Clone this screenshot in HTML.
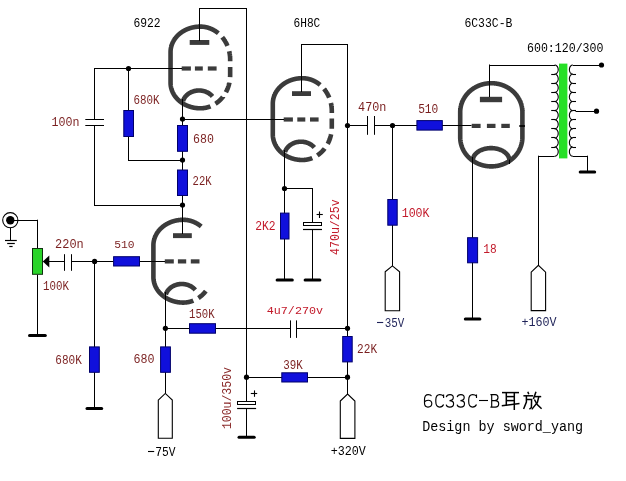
<!DOCTYPE html>
<html><head><meta charset="utf-8"><style>
html,body{margin:0;padding:0;background:#fff;}
svg{display:block;will-change:transform;}
text{font-family:"Liberation Mono";}
</style></head><body>
<svg width="626" height="481" viewBox="0 0 626 481">
<rect width="626" height="481" fill="#fff"/>
<polyline points="210.48,106.33 210.48,106.33 210.3,106.41 210.11,106.48 209.93,106.55 209.74,106.62 209.56,106.68 209.37,106.75 209.19,106.82 209,106.88 208.81,106.94 208.63,107 208.44,107.06 208.25,107.12 208.06,107.18 207.87,107.23 207.69,107.28 207.5,107.34 207.31,107.39 207.12,107.44 206.93,107.49 206.74,107.53 206.55,107.58 206.35,107.62 206.16,107.67 205.97,107.71 205.78,107.75 205.59,107.79 205.4,107.82 205.2,107.86 205.01,107.89 204.82,107.93 204.63,107.96 204.43,107.99 204.24,108.02 204.05,108.05 203.85,108.07 203.66,108.1 203.46,108.12 203.27,108.14 203.08,108.16 202.88,108.18 202.69,108.2 202.49,108.21 202.3,108.23 202.1,108.24 201.91,108.25 201.71,108.27 201.52,108.27 201.33,108.28 201.13,108.29 200.94,108.29 200.74,108.3 200.55,108.3 200.35,108.3 200.15,108.3 199.96,108.3 199.76,108.3 199.57,108.29 199.37,108.29 199.18,108.28 198.99,108.27 198.79,108.27 198.6,108.26 198.4,108.25 198.21,108.23 198.01,108.22 197.82,108.21 197.62,108.19 197.43,108.18 197.24,108.16 197.04,108.14 196.85,108.12 196.65,108.1 196.46,108.08 196.27,108.06 196.07,108.04 195.88,108.01 195.69,107.99 195.5,107.96 195.3,107.93 195.11,107.9 194.92,107.87 194.73,107.84 194.54,107.81 194.35,107.78 194.15,107.74 193.96,107.71 193.77,107.67 193.58,107.63 193.39,107.6 193.2,107.56 193.01,107.52 192.83,107.47 192.64,107.43 192.45,107.39 192.26,107.34 192.07,107.3 191.89,107.25 191.7,107.2 191.51,107.15 191.33,107.1 191.14,107.05 190.96,107 190.77,106.95 190.59,106.89 190.4,106.84 190.22,106.78 190.04,106.72 189.85,106.67 189.67,106.61 189.49,106.55 189.31,106.48 189.13,106.42 188.95,106.36 188.77,106.29 188.59,106.23 188.41,106.16 188.23,106.1 188.05,106.03 187.87,105.96 187.7,105.89 187.52,105.82 187.35,105.74 187.17,105.67 187,105.6 186.82,105.52 186.65,105.44 186.47,105.37 186.3,105.29 186.13,105.21 185.96,105.13 185.79,105.05 185.62,104.97 185.45,104.88 185.28,104.8 185.11,104.71 184.95,104.63 184.78,104.54 184.61,104.45 184.45,104.37 184.28,104.28 184.12,104.19 183.96,104.09 183.79,104 183.63,103.91 183.47,103.82 183.31,103.72 183.15,103.62 182.99,103.53 182.83,103.43 182.68,103.33 182.52,103.23 182.36,103.13 182.21,103.03 182.05,102.93 181.9,102.83 181.75,102.72 181.6,102.62 181.45,102.51 181.29,102.41 181.15,102.3 181,102.19 180.85,102.08 180.7,101.97 180.56,101.86 180.41,101.75 180.27,101.64 180.12,101.53 179.98,101.41 179.84,101.3 179.7,101.18 179.56,101.07 179.42,100.95 179.28,100.83 179.14,100.71 179,100.59 178.87,100.47 178.73,100.35 178.6,100.23 178.47,100.11 178.34,99.99 178.2,99.86 178.07,99.74 177.95,99.61 177.82,99.49 177.69,99.36 177.56,99.23 177.44,99.11 177.31,98.98 177.19,98.85 177.07,98.72 176.95,98.59 176.83,98.46 176.71,98.32 176.59,98.19 176.47,98.06 176.36,97.92 176.24,97.79 176.13,97.65 176.01,97.52 175.9,97.38 175.79,97.24 175.68,97.11 175.57,96.97 175.46,96.83 175.36,96.69 175.25,96.55 175.15,96.41 175.04,96.27 174.94,96.12 174.84,95.98 174.74,95.84 174.64,95.69 174.54,95.55 174.45,95.41 174.35,95.26 174.25,95.11 174.16,94.97 174.07,94.82 173.98,94.67 173.89,94.53 173.8,94.38 173.71,94.23 173.62,94.08 173.54,93.93 173.45,93.78 173.37,93.63 173.29,93.48 173.21,93.32 173.13,93.17 173.05,93.02 172.97,92.87 172.89,92.71 172.82,92.56 172.74,92.4 172.67,92.25 172.6,92.09 172.53,91.94 172.46,91.78 172.39,91.63 172.32,91.47 172.26,91.31 172.19,91.15 172.13,91 172.07,90.84 172.01,90.68 171.95,90.52 171.89,90.36 171.83,90.2 171.78,90.04 171.72,89.88 171.67,89.72 171.62,89.56 171.57,89.4 171.52,89.24 171.47,89.08 171.42,88.92 171.37,88.75 171.33,88.59 171.28,88.43 171.24,88.26 171.2,88.1 171.16,87.94 171.12,87.77 171.09,87.61 171.05,87.45 171.01,87.28 170.98,87.12 170.95,86.95 170.92,86.79 170.89,86.62 170.86,86.46 170.83,86.29 170.8,86.13 170.78,85.96 170.76,85.8 170.73,85.63 170.71,85.47 170.69,85.3 170.68,85.13 170.66,84.97 170.64,84.8 170.63,84.63 170.61,84.47 170.6,84.3 170.59,84.13 170.58,83.97 170.57,83.8 170.57,83.63 170.56,83.47 170.56,83.3 170.55,83.13 170.55,82.97 170.55,82.8 170.55,52.1 170.55,51.93 170.55,51.77 170.56,51.6 170.56,51.43 170.57,51.27 170.57,51.1 170.58,50.93 170.59,50.77 170.6,50.6 170.61,50.43 170.63,50.27 170.64,50.1 170.66,49.93 170.68,49.77 170.69,49.6 170.71,49.43 170.73,49.27 170.76,49.1 170.78,48.94 170.8,48.77 170.83,48.61 170.86,48.44 170.89,48.28 170.92,48.11 170.95,47.95 170.98,47.78 171.01,47.62 171.05,47.45 171.09,47.29 171.12,47.13 171.16,46.96 171.2,46.8 171.24,46.64 171.28,46.47 171.33,46.31 171.37,46.15 171.42,45.98 171.47,45.82 171.52,45.66 171.57,45.5 171.62,45.34 171.67,45.18 171.72,45.02 171.78,44.86 171.83,44.7 171.89,44.54 171.95,44.38 172.01,44.22 172.07,44.06 172.13,43.9 172.19,43.75 172.26,43.59 172.32,43.43 172.39,43.27 172.46,43.12 172.53,42.96 172.6,42.81 172.67,42.65 172.74,42.5 172.82,42.34 172.89,42.19 172.97,42.03 173.05,41.88 173.13,41.73 173.21,41.58 173.29,41.42 173.37,41.27 173.45,41.12 173.54,40.97 173.62,40.82 173.71,40.67 173.8,40.52 173.89,40.37 173.98,40.23 174.07,40.08 174.16,39.93 174.25,39.79 174.35,39.64 174.45,39.49 174.54,39.35 174.64,39.21 174.74,39.06 174.84,38.92 174.94,38.78 175.04,38.63 175.15,38.49 175.25,38.35 175.36,38.21 175.46,38.07 175.57,37.93 175.68,37.79 175.79,37.66 175.9,37.52 176.01,37.38 176.13,37.25 176.24,37.11 176.36,36.98 176.47,36.84 176.59,36.71 176.71,36.58 176.83,36.44 176.95,36.31 177.07,36.18 177.19,36.05 177.31,35.92 177.44,35.79 177.56,35.67 177.69,35.54 177.82,35.41 177.95,35.29 178.07,35.16 178.2,35.04 178.34,34.91 178.47,34.79 178.6,34.67 178.73,34.55 178.87,34.43 179,34.31 179.14,34.19 179.28,34.07 179.42,33.95 179.56,33.83 179.7,33.72 179.84,33.6 179.98,33.49 180.12,33.37 180.27,33.26 180.41,33.15 180.56,33.04 180.7,32.93 180.85,32.82 181,32.71 181.15,32.6 181.29,32.49 181.45,32.39 181.6,32.28 181.75,32.18 181.9,32.07 182.05,31.97 182.21,31.87 182.36,31.77 182.52,31.67 182.68,31.57 182.83,31.47 182.99,31.37 183.15,31.28 183.31,31.18 183.47,31.08 183.63,30.99 183.79,30.9 183.96,30.81 184.12,30.71 184.28,30.62 184.45,30.53 184.61,30.45 184.78,30.36 184.95,30.27 185.11,30.19 185.28,30.1 185.45,30.02 185.62,29.93 185.79,29.85 185.96,29.77 186.13,29.69 186.3,29.61 186.47,29.53 186.65,29.46 186.82,29.38 187,29.3 187.17,29.23 187.35,29.16 187.52,29.08 187.7,29.01 187.87,28.94 188.05,28.87 188.23,28.8 188.41,28.74 188.59,28.67 188.77,28.61 188.95,28.54 189.13,28.48 189.31,28.42 189.49,28.35 189.67,28.29 189.85,28.23 190.04,28.18 190.22,28.12 190.4,28.06 190.59,28.01 190.77,27.95 190.96,27.9 191.14,27.85 191.33,27.8 191.51,27.75 191.7,27.7 191.89,27.65 192.07,27.6 192.26,27.56 192.45,27.51 192.64,27.47 192.83,27.43 193.01,27.38 193.2,27.34 193.39,27.3 193.58,27.27 193.77,27.23 193.96,27.19 194.15,27.16 194.35,27.12 194.54,27.09 194.73,27.06 194.92,27.03 195.11,27 195.3,26.97 195.5,26.94 195.69,26.91 195.88,26.89 196.07,26.86 196.27,26.84 196.46,26.82 196.65,26.8 196.85,26.78 197.04,26.76 197.24,26.74 197.43,26.72 197.62,26.71 197.82,26.69 198.01,26.68 198.21,26.67 198.4,26.65 198.6,26.64 198.79,26.63 198.99,26.63 199.18,26.62 199.37,26.61 199.57,26.61 199.76,26.6 199.96,26.6 200.15,26.6 200.35,26.6 200.35,26.6 200.55,26.6 200.74,26.6 200.94,26.61 201.13,26.61 201.33,26.62 201.52,26.63 201.71,26.63 201.91,26.65 202.1,26.66 202.3,26.67 202.49,26.69 202.69,26.7 202.88,26.72 203.08,26.74 203.27,26.76 203.46,26.78 203.66,26.8 203.85,26.83 204.05,26.85 204.24,26.88 204.43,26.91 204.63,26.94 204.82,26.97 205.01,27.01 205.2,27.04 205.4,27.08 205.59,27.11 205.78,27.15 205.97,27.19 206.16,27.23 206.35,27.28 206.55,27.32 206.74,27.37 206.93,27.41 207.12,27.46 207.31,27.51 207.5,27.56 207.69,27.62 207.87,27.67 208.06,27.72 208.25,27.78 208.44,27.84 208.63,27.9 208.81,27.96 209,28.02 209.19,28.08 209.37,28.15 209.56,28.22 209.74,28.28 209.93,28.35 210.11,28.42 210.3,28.49 210.48,28.57 210.66,28.64 210.85,28.72 211.03,28.79 211.21,28.87 211.39,28.95 211.57,29.03 211.75,29.11 211.93,29.2 212.11,29.28 212.29,29.37 212.47,29.45 212.65,29.54 212.83,29.63 213,29.72 213.18,29.81 213.35,29.91 213.53,30 213.7,30.1 213.88,30.2 214.05,30.3 214.23,30.4 214.4,30.5 214.57,30.6 214.74,30.7 214.91,30.81 215.08,30.91 215.25,31.02 215.42,31.13 215.59,31.24 215.75,31.35 215.92,31.46 216.09,31.58 216.25,31.69 216.42,31.81 216.58,31.92 216.74,32.04 216.91,32.16 217.07,32.28 217.23,32.4 217.39,32.53 217.55,32.65 217.71,32.78 217.87,32.9 218.02,33.03 218.18,33.16 218.34,33.29 218.34,33.29 218.34,33.29" fill="none" stroke="#3b3b3b" stroke-width="4.6" stroke-linecap="butt" stroke-linejoin="round"/>
<polyline points="222.28,37.25 222.36,37.36 222.5,37.52 222.63,37.68 222.75,37.84 222.88,38 223.01,38.17 223.14,38.33 223.26,38.5 223.39,38.67 223.51,38.83 223.63,39 223.75,39.17 223.87,39.34 223.99,39.51 224.11,39.68 224.23,39.86 224.34,40.03 224.46,40.2 224.57,40.38 224.69,40.55 224.8,40.73 224.91,40.91 225.02,41.09 225.13,41.27 225.24,41.45 225.34,41.63 225.45,41.81 225.55,41.99 225.66,42.17 225.76,42.36 225.86,42.54 225.96,42.73 226.06,42.91 226.16,43.1 226.25,43.29 226.35,43.48 226.45,43.66 226.54,43.85 226.63,44.04 226.72,44.23 226.81,44.43 226.9,44.62 226.99,44.81 227.08,45 227.16,45.2 227.25,45.39 227.33,45.59 227.41,45.78 227.48,45.95" fill="none" stroke="#3b3b3b" stroke-width="4.6" stroke-linecap="butt" stroke-linejoin="miter"/>
<polyline points="229.19,51.27 229.23,51.48 229.28,51.69 229.33,51.9 229.37,52.11 229.42,52.32 229.46,52.53 229.5,52.74 229.54,52.95 229.58,53.16 229.61,53.37 229.65,53.59 229.69,53.8 229.72,54.01 229.75,54.22 229.78,54.44 229.81,54.65 229.84,54.86 229.87,55.08 229.9,55.29 229.92,55.51 229.94,55.72 229.97,55.94 229.99,56.15 230.01,56.37 230.02,56.58 230.04,56.8 230.06,57.01 230.07,57.23 230.09,57.44 230.1,57.66 230.11,57.87 230.12,58.09 230.13,58.3 230.13,58.52 230.14,58.74 230.14,58.95 230.15,59.17 230.15,59.38 230.15,59.6 230.15,61.37" fill="none" stroke="#3b3b3b" stroke-width="4.6" stroke-linecap="butt" stroke-linejoin="miter"/>
<polyline points="230.15,66.97 230.15,75.3 230.15,75.52 230.15,75.73 230.14,75.95 230.14,76.16 230.13,76.38 230.13,76.6 230.12,76.81 230.11,77.03 230.1,77.14" fill="none" stroke="#3b3b3b" stroke-width="4.6" stroke-linecap="butt" stroke-linejoin="miter"/>
<polyline points="229.39,82.68 229.37,82.79 229.33,83 229.28,83.21 229.23,83.42 229.18,83.63 229.13,83.84 229.08,84.05 229.03,84.26 228.98,84.47 228.92,84.67 228.87,84.88 228.81,85.09 228.75,85.29 228.69,85.5 228.63,85.7 228.57,85.91 228.51,86.11 228.44,86.32 228.38,86.52 228.31,86.72 228.24,86.92 228.17,87.13 228.1,87.33 228.03,87.53 227.96,87.73 227.88,87.93 227.81,88.13 227.73,88.33 227.65,88.52 227.57,88.72 227.49,88.92 227.41,89.12 227.33,89.31 227.25,89.51 227.16,89.7 227.08,89.9 226.99,90.09 226.9,90.28 226.81,90.47 226.72,90.67 226.63,90.86 226.54,91.05 226.45,91.24 226.35,91.42 226.25,91.61 226.16,91.8 226.06,91.99 225.96,92.17 225.94,92.21" fill="none" stroke="#3b3b3b" stroke-width="4.6" stroke-linecap="butt" stroke-linejoin="miter"/>
<polyline points="222.88,96.89 222.88,96.9 222.75,97.06 222.63,97.22 222.5,97.38 222.36,97.54 222.23,97.7 222.1,97.86 221.97,98.02 221.83,98.17 221.7,98.33 221.56,98.48 221.42,98.63 221.28,98.79 221.14,98.94 221,99.09 220.86,99.24 220.72,99.39 220.58,99.53 220.43,99.68 220.29,99.82 220.14,99.97 220,100.11 219.85,100.25 219.7,100.39 219.55,100.53 219.41,100.67 219.25,100.81 219.1,100.95 218.95,101.08 218.8,101.22 218.65,101.35 218.49,101.48 218.34,101.61 218.18,101.74 218.02,101.87 217.87,102 217.71,102.12 217.55,102.25 217.39,102.37 217.23,102.5 217.07,102.62 216.91,102.74 216.74,102.86 216.58,102.98 216.42,103.09 216.25,103.21 216.09,103.32 215.92,103.44 215.75,103.55 215.59,103.66 215.44,103.76" fill="none" stroke="#3b3b3b" stroke-width="4.6" stroke-linecap="butt" stroke-linejoin="miter"/>
<rect x="189.7" y="40" width="19.6" height="4.9" fill="#3b3b3b"/>
<line x1="181.7" y1="68.5" x2="190.9" y2="68.5" stroke="#3b3b3b" stroke-width="4.2" stroke-linecap="butt"/>
<line x1="194.9" y1="68.5" x2="202.8" y2="68.5" stroke="#3b3b3b" stroke-width="4.2" stroke-linecap="butt"/>
<line x1="207.8" y1="68.5" x2="216.6" y2="68.5" stroke="#3b3b3b" stroke-width="4.2" stroke-linecap="butt"/>
<polyline points="183.04,100.86 183.18,100.48 183.32,100.1 183.48,99.72 183.65,99.35 183.84,98.98 184.03,98.62 184.24,98.26 184.45,97.91 184.68,97.56 184.92,97.22 185.17,96.89 185.44,96.56 185.71,96.23 185.99,95.92 186.28,95.61 186.59,95.31 186.9,95.01 187.22,94.72 187.55,94.44 187.89,94.17 188.24,93.91 188.6,93.66 188.96,93.41 189.34,93.17 189.72,92.94 190.11,92.73 190.5,92.52 190.9,92.32 191.31,92.13 191.72,91.95 192.14,91.78 192.57,91.62 193,91.47 193.43,91.33 193.87,91.2 194.31,91.08 194.76,90.97 195.21,90.88 195.66,90.79 196.12,90.72 196.58,90.65 197.03,90.6 197.5,90.56 197.96,90.53 198.42,90.51 198.88,90.5 199.35,90.5 199.81,90.52 200.27,90.54 200.74,90.58 201.2,90.63 201.65,90.68 202.11,90.75 202.56,90.83 203.02,90.92 203.46,91.03 203.91,91.14 204.35,91.26 204.79,91.4 205.22,91.54 205.65,91.7 206.07,91.86 206.48,92.04 206.9,92.22 207.3,92.42 207.7,92.62 208.09,92.83 208.47,93.06 208.85,93.29 209.22,93.53 209.58,93.78 209.93,94.04 210.28,94.31 210.61,94.58 210.94,94.87 211.26,95.16 211.57,95.46 211.86,95.76 212.15,96.07 212.43,96.39" fill="none" stroke="#3b3b3b" stroke-width="4.6" stroke-linecap="butt" stroke-linejoin="miter"/>
<polyline points="193.33,300.63 193.33,300.63 193.15,300.71 192.96,300.78 192.78,300.85 192.59,300.92 192.41,300.98 192.22,301.05 192.04,301.12 191.85,301.18 191.66,301.24 191.48,301.3 191.29,301.36 191.1,301.42 190.91,301.48 190.72,301.53 190.54,301.58 190.35,301.64 190.16,301.69 189.97,301.74 189.78,301.79 189.59,301.83 189.4,301.88 189.2,301.92 189.01,301.97 188.82,302.01 188.63,302.05 188.44,302.09 188.25,302.12 188.05,302.16 187.86,302.19 187.67,302.23 187.48,302.26 187.28,302.29 187.09,302.32 186.9,302.35 186.7,302.37 186.51,302.4 186.31,302.42 186.12,302.44 185.93,302.46 185.73,302.48 185.54,302.5 185.34,302.51 185.15,302.53 184.95,302.54 184.76,302.55 184.56,302.57 184.37,302.57 184.18,302.58 183.98,302.59 183.79,302.59 183.59,302.6 183.4,302.6 183.2,302.6 183,302.6 182.81,302.6 182.61,302.6 182.42,302.59 182.22,302.59 182.03,302.58 181.84,302.57 181.64,302.57 181.45,302.56 181.25,302.55 181.06,302.53 180.86,302.52 180.67,302.51 180.47,302.49 180.28,302.48 180.09,302.46 179.89,302.44 179.7,302.42 179.5,302.4 179.31,302.38 179.12,302.36 178.92,302.34 178.73,302.31 178.54,302.29 178.35,302.26 178.15,302.23 177.96,302.2 177.77,302.17 177.58,302.14 177.39,302.11 177.2,302.08 177,302.04 176.81,302.01 176.62,301.97 176.43,301.93 176.24,301.9 176.05,301.86 175.86,301.82 175.68,301.77 175.49,301.73 175.3,301.69 175.11,301.64 174.92,301.6 174.74,301.55 174.55,301.5 174.36,301.45 174.18,301.4 173.99,301.35 173.81,301.3 173.62,301.25 173.44,301.19 173.25,301.14 173.07,301.08 172.89,301.02 172.7,300.97 172.52,300.91 172.34,300.85 172.16,300.78 171.98,300.72 171.8,300.66 171.62,300.59 171.44,300.53 171.26,300.46 171.08,300.4 170.9,300.33 170.72,300.26 170.55,300.19 170.37,300.12 170.2,300.04 170.02,299.97 169.85,299.9 169.67,299.82 169.5,299.74 169.32,299.67 169.15,299.59 168.98,299.51 168.81,299.43 168.64,299.35 168.47,299.27 168.3,299.18 168.13,299.1 167.96,299.01 167.8,298.93 167.63,298.84 167.46,298.75 167.3,298.67 167.13,298.58 166.97,298.49 166.81,298.39 166.64,298.3 166.48,298.21 166.32,298.12 166.16,298.02 166,297.92 165.84,297.83 165.68,297.73 165.53,297.63 165.37,297.53 165.21,297.43 165.06,297.33 164.9,297.23 164.75,297.13 164.6,297.02 164.45,296.92 164.3,296.81 164.14,296.71 164,296.6 163.85,296.49 163.7,296.38 163.55,296.27 163.41,296.16 163.26,296.05 163.12,295.94 162.97,295.83 162.83,295.71 162.69,295.6 162.55,295.48 162.41,295.37 162.27,295.25 162.13,295.13 161.99,295.01 161.85,294.89 161.72,294.77 161.58,294.65 161.45,294.53 161.32,294.41 161.19,294.29 161.05,294.16 160.92,294.04 160.8,293.91 160.67,293.79 160.54,293.66 160.41,293.53 160.29,293.41 160.16,293.28 160.04,293.15 159.92,293.02 159.8,292.89 159.68,292.76 159.56,292.62 159.44,292.49 159.32,292.36 159.21,292.22 159.09,292.09 158.98,291.95 158.86,291.82 158.75,291.68 158.64,291.54 158.53,291.41 158.42,291.27 158.31,291.13 158.21,290.99 158.1,290.85 158,290.71 157.89,290.57 157.79,290.42 157.69,290.28 157.59,290.14 157.49,289.99 157.39,289.85 157.3,289.71 157.2,289.56 157.1,289.41 157.01,289.27 156.92,289.12 156.83,288.97 156.74,288.83 156.65,288.68 156.56,288.53 156.47,288.38 156.39,288.23 156.3,288.08 156.22,287.93 156.14,287.78 156.06,287.62 155.98,287.47 155.9,287.32 155.82,287.17 155.74,287.01 155.67,286.86 155.59,286.7 155.52,286.55 155.45,286.39 155.38,286.24 155.31,286.08 155.24,285.93 155.17,285.77 155.11,285.61 155.04,285.45 154.98,285.3 154.92,285.14 154.86,284.98 154.8,284.82 154.74,284.66 154.68,284.5 154.63,284.34 154.57,284.18 154.52,284.02 154.47,283.86 154.42,283.7 154.37,283.54 154.32,283.38 154.27,283.22 154.22,283.05 154.18,282.89 154.13,282.73 154.09,282.56 154.05,282.4 154.01,282.24 153.97,282.07 153.94,281.91 153.9,281.75 153.86,281.58 153.83,281.42 153.8,281.25 153.77,281.09 153.74,280.92 153.71,280.76 153.68,280.59 153.65,280.43 153.63,280.26 153.61,280.1 153.58,279.93 153.56,279.77 153.54,279.6 153.53,279.43 153.51,279.27 153.49,279.1 153.48,278.93 153.46,278.77 153.45,278.6 153.44,278.43 153.43,278.27 153.42,278.1 153.42,277.93 153.41,277.77 153.41,277.6 153.4,277.43 153.4,277.27 153.4,277.1 153.4,245.3 153.4,245.13 153.4,244.97 153.41,244.8 153.41,244.63 153.42,244.47 153.42,244.3 153.43,244.13 153.44,243.97 153.45,243.8 153.46,243.63 153.48,243.47 153.49,243.3 153.51,243.13 153.53,242.97 153.54,242.8 153.56,242.63 153.58,242.47 153.61,242.3 153.63,242.14 153.65,241.97 153.68,241.81 153.71,241.64 153.74,241.48 153.77,241.31 153.8,241.15 153.83,240.98 153.86,240.82 153.9,240.65 153.94,240.49 153.97,240.33 154.01,240.16 154.05,240 154.09,239.84 154.13,239.67 154.18,239.51 154.22,239.35 154.27,239.18 154.32,239.02 154.37,238.86 154.42,238.7 154.47,238.54 154.52,238.38 154.57,238.22 154.63,238.06 154.68,237.9 154.74,237.74 154.8,237.58 154.86,237.42 154.92,237.26 154.98,237.1 155.04,236.95 155.11,236.79 155.17,236.63 155.24,236.47 155.31,236.32 155.38,236.16 155.45,236.01 155.52,235.85 155.59,235.7 155.67,235.54 155.74,235.39 155.82,235.23 155.9,235.08 155.98,234.93 156.06,234.78 156.14,234.62 156.22,234.47 156.3,234.32 156.39,234.17 156.47,234.02 156.56,233.87 156.65,233.72 156.74,233.57 156.83,233.43 156.92,233.28 157.01,233.13 157.1,232.99 157.2,232.84 157.3,232.69 157.39,232.55 157.49,232.41 157.59,232.26 157.69,232.12 157.79,231.98 157.89,231.83 158,231.69 158.1,231.55 158.21,231.41 158.31,231.27 158.42,231.13 158.53,230.99 158.64,230.86 158.75,230.72 158.86,230.58 158.98,230.45 159.09,230.31 159.21,230.18 159.32,230.04 159.44,229.91 159.56,229.78 159.68,229.64 159.8,229.51 159.92,229.38 160.04,229.25 160.16,229.12 160.29,228.99 160.41,228.87 160.54,228.74 160.67,228.61 160.8,228.49 160.92,228.36 161.05,228.24 161.19,228.11 161.32,227.99 161.45,227.87 161.58,227.75 161.72,227.63 161.85,227.51 161.99,227.39 162.13,227.27 162.27,227.15 162.41,227.03 162.55,226.92 162.69,226.8 162.83,226.69 162.97,226.57 163.12,226.46 163.26,226.35 163.41,226.24 163.55,226.13 163.7,226.02 163.85,225.91 164,225.8 164.14,225.69 164.3,225.59 164.45,225.48 164.6,225.38 164.75,225.27 164.9,225.17 165.06,225.07 165.21,224.97 165.37,224.87 165.53,224.77 165.68,224.67 165.84,224.57 166,224.48 166.16,224.38 166.32,224.28 166.48,224.19 166.64,224.1 166.81,224.01 166.97,223.91 167.13,223.82 167.3,223.73 167.46,223.65 167.63,223.56 167.8,223.47 167.96,223.39 168.13,223.3 168.3,223.22 168.47,223.13 168.64,223.05 168.81,222.97 168.98,222.89 169.15,222.81 169.32,222.73 169.5,222.66 169.67,222.58 169.85,222.5 170.02,222.43 170.2,222.36 170.37,222.28 170.55,222.21 170.72,222.14 170.9,222.07 171.08,222 171.26,221.94 171.44,221.87 171.62,221.81 171.8,221.74 171.98,221.68 172.16,221.62 172.34,221.55 172.52,221.49 172.7,221.43 172.89,221.38 173.07,221.32 173.25,221.26 173.44,221.21 173.62,221.15 173.81,221.1 173.99,221.05 174.18,221 174.36,220.95 174.55,220.9 174.74,220.85 174.92,220.8 175.11,220.76 175.3,220.71 175.49,220.67 175.68,220.63 175.86,220.58 176.05,220.54 176.24,220.5 176.43,220.47 176.62,220.43 176.81,220.39 177,220.36 177.2,220.32 177.39,220.29 177.58,220.26 177.77,220.23 177.96,220.2 178.15,220.17 178.35,220.14 178.54,220.11 178.73,220.09 178.92,220.06 179.12,220.04 179.31,220.02 179.5,220 179.7,219.98 179.89,219.96 180.09,219.94 180.28,219.92 180.47,219.91 180.67,219.89 180.86,219.88 181.06,219.87 181.25,219.85 181.45,219.84 181.64,219.83 181.84,219.83 182.03,219.82 182.22,219.81 182.42,219.81 182.61,219.8 182.81,219.8 183,219.8 183.2,219.8 183.2,219.8 183.4,219.8 183.59,219.8 183.79,219.81 183.98,219.81 184.18,219.82 184.37,219.83 184.56,219.83 184.76,219.85 184.95,219.86 185.15,219.87 185.34,219.89 185.54,219.9 185.73,219.92 185.93,219.94 186.12,219.96 186.31,219.98 186.51,220 186.7,220.03 186.9,220.05 187.09,220.08 187.28,220.11 187.48,220.14 187.67,220.17 187.86,220.21 188.05,220.24 188.25,220.28 188.44,220.31 188.63,220.35 188.82,220.39 189.01,220.43 189.2,220.48 189.4,220.52 189.59,220.57 189.78,220.61 189.97,220.66 190.16,220.71 190.35,220.76 190.54,220.82 190.72,220.87 190.91,220.92 191.1,220.98 191.29,221.04 191.48,221.1 191.66,221.16 191.85,221.22 192.04,221.28 192.22,221.35 192.41,221.42 192.59,221.48 192.78,221.55 192.96,221.62 193.15,221.69 193.33,221.77 193.51,221.84 193.7,221.92 193.88,221.99 194.06,222.07 194.24,222.15 194.42,222.23 194.6,222.31 194.78,222.4 194.96,222.48 195.14,222.57 195.32,222.65 195.5,222.74 195.68,222.83 195.85,222.92 196.03,223.01 196.2,223.11 196.38,223.2 196.55,223.3 196.73,223.4 196.9,223.5 197.08,223.6 197.25,223.7 197.42,223.8 197.59,223.9 197.76,224.01 197.93,224.11 198.1,224.22 198.27,224.33 198.44,224.44 198.6,224.55 198.77,224.66 198.94,224.78 199.1,224.89 199.27,225.01 199.43,225.12 199.59,225.24 199.76,225.36 199.92,225.48 200.08,225.6 200.24,225.73 200.4,225.85 200.56,225.98 200.72,226.1 200.87,226.23 201.03,226.36 201.19,226.49 201.19,226.49 201.19,226.49" fill="none" stroke="#3b3b3b" stroke-width="4.6" stroke-linecap="butt" stroke-linejoin="round"/>
<polyline points="205.86,291.03 205.86,291.03 205.73,291.2 205.6,291.36 205.48,291.52 205.35,291.68 205.21,291.84 205.08,292 204.95,292.16 204.82,292.32 204.68,292.47 204.55,292.63 204.41,292.78 204.27,292.93 204.13,293.09 203.99,293.24 203.85,293.39 203.71,293.54 203.57,293.69 203.43,293.83 203.28,293.98 203.14,294.12 202.99,294.27 202.85,294.41 202.7,294.55 202.55,294.69 202.4,294.83 202.26,294.97 202.1,295.11 201.95,295.25 201.8,295.38 201.65,295.52 201.5,295.65 201.34,295.78 201.19,295.91 201.03,296.04 200.87,296.17 200.72,296.3 200.56,296.42 200.4,296.55 200.24,296.67 200.08,296.8 199.92,296.92 199.76,297.04 199.59,297.16 199.43,297.28 199.27,297.39 199.1,297.51 198.94,297.62 198.77,297.74 198.6,297.85 198.44,297.96 198.35,298.02" fill="none" stroke="#3b3b3b" stroke-width="4.6" stroke-linecap="butt" stroke-linejoin="miter"/>
<rect x="173" y="233.2" width="18.8" height="4.9" fill="#3b3b3b"/>
<line x1="164.8" y1="261.4" x2="173.8" y2="261.4" stroke="#3b3b3b" stroke-width="4.2" stroke-linecap="butt"/>
<line x1="177.9" y1="261.4" x2="186.2" y2="261.4" stroke="#3b3b3b" stroke-width="4.2" stroke-linecap="butt"/>
<line x1="190.8" y1="261.4" x2="199.5" y2="261.4" stroke="#3b3b3b" stroke-width="4.2" stroke-linecap="butt"/>
<polyline points="165.84,294.36 165.98,293.98 166.12,293.6 166.28,293.22 166.45,292.85 166.64,292.48 166.83,292.12 167.04,291.76 167.25,291.41 167.48,291.06 167.72,290.72 167.97,290.39 168.24,290.06 168.51,289.73 168.79,289.42 169.08,289.11 169.39,288.81 169.7,288.51 170.02,288.22 170.35,287.94 170.69,287.67 171.04,287.41 171.4,287.16 171.76,286.91 172.14,286.67 172.52,286.44 172.91,286.23 173.3,286.02 173.7,285.82 174.11,285.63 174.52,285.45 174.94,285.28 175.37,285.12 175.8,284.97 176.23,284.83 176.67,284.7 177.11,284.58 177.56,284.47 178.01,284.38 178.46,284.29 178.92,284.22 179.38,284.15 179.83,284.1 180.3,284.06 180.76,284.03 181.22,284.01 181.68,284 182.15,284 182.61,284.02 183.07,284.04 183.54,284.08 184,284.13 184.45,284.18 184.91,284.25 185.36,284.33 185.82,284.42 186.26,284.53 186.71,284.64 187.15,284.76 187.59,284.9 188.02,285.04 188.45,285.2 188.87,285.36 189.28,285.54 189.7,285.72 190.1,285.92 190.5,286.12 190.89,286.33 191.27,286.56 191.65,286.79 192.02,287.03 192.38,287.28 192.73,287.54 193.08,287.81 193.41,288.08 193.74,288.37 194.06,288.66 194.37,288.96 194.66,289.26 194.95,289.57 195.23,289.89" fill="none" stroke="#3b3b3b" stroke-width="4.6" stroke-linecap="butt" stroke-linejoin="miter"/>
<polyline points="312.33,158.03 312.33,158.03 312.15,158.11 311.97,158.18 311.78,158.25 311.6,158.32 311.42,158.38 311.23,158.45 311.05,158.52 310.86,158.58 310.68,158.64 310.49,158.7 310.31,158.76 310.12,158.82 309.94,158.88 309.75,158.93 309.56,158.98 309.37,159.04 309.19,159.09 309,159.14 308.81,159.19 308.62,159.23 308.43,159.28 308.24,159.32 308.06,159.37 307.87,159.41 307.68,159.45 307.49,159.49 307.3,159.52 307.11,159.56 306.91,159.59 306.72,159.63 306.53,159.66 306.34,159.69 306.15,159.72 305.96,159.75 305.77,159.77 305.58,159.8 305.38,159.82 305.19,159.84 305,159.86 304.81,159.88 304.61,159.9 304.42,159.91 304.23,159.93 304.04,159.94 303.84,159.95 303.65,159.97 303.46,159.97 303.27,159.98 303.07,159.99 302.88,159.99 302.69,160 302.49,160 302.3,160 302.11,160 301.91,160 301.72,160 301.53,159.99 301.33,159.99 301.14,159.98 300.95,159.97 300.76,159.97 300.56,159.96 300.37,159.95 300.18,159.93 299.99,159.92 299.79,159.91 299.6,159.89 299.41,159.88 299.22,159.86 299.02,159.84 298.83,159.82 298.64,159.8 298.45,159.78 298.26,159.76 298.07,159.74 297.88,159.71 297.69,159.69 297.49,159.66 297.3,159.63 297.11,159.6 296.92,159.57 296.73,159.54 296.54,159.51 296.36,159.48 296.17,159.44 295.98,159.41 295.79,159.37 295.6,159.33 295.41,159.3 295.23,159.26 295.04,159.22 294.85,159.17 294.66,159.13 294.48,159.09 294.29,159.04 294.11,159 293.92,158.95 293.74,158.9 293.55,158.85 293.37,158.8 293.18,158.75 293,158.7 292.82,158.65 292.63,158.59 292.45,158.54 292.27,158.48 292.09,158.42 291.91,158.37 291.73,158.31 291.55,158.25 291.37,158.18 291.19,158.12 291.01,158.06 290.83,157.99 290.66,157.93 290.48,157.86 290.3,157.8 290.13,157.73 289.95,157.66 289.77,157.59 289.6,157.52 289.43,157.44 289.25,157.37 289.08,157.3 288.91,157.22 288.74,157.14 288.56,157.07 288.39,156.99 288.22,156.91 288.05,156.83 287.89,156.75 287.72,156.67 287.55,156.58 287.38,156.5 287.22,156.41 287.05,156.33 286.89,156.24 286.72,156.15 286.56,156.07 286.4,155.98 286.23,155.89 286.07,155.79 285.91,155.7 285.75,155.61 285.59,155.52 285.43,155.42 285.27,155.32 285.12,155.23 284.96,155.13 284.8,155.03 284.65,154.93 284.5,154.83 284.34,154.73 284.19,154.63 284.04,154.53 283.89,154.42 283.74,154.32 283.59,154.21 283.44,154.11 283.29,154 283.14,153.89 282.99,153.78 282.85,153.67 282.7,153.56 282.56,153.45 282.42,153.34 282.28,153.23 282.13,153.11 281.99,153 281.85,152.88 281.72,152.77 281.58,152.65 281.44,152.53 281.3,152.41 281.17,152.29 281.03,152.17 280.9,152.05 280.77,151.93 280.64,151.81 280.51,151.69 280.38,151.56 280.25,151.44 280.12,151.31 279.99,151.19 279.87,151.06 279.74,150.93 279.62,150.81 279.5,150.68 279.37,150.55 279.25,150.42 279.13,150.29 279.01,150.16 278.9,150.02 278.78,149.89 278.66,149.76 278.55,149.62 278.43,149.49 278.32,149.35 278.21,149.22 278.1,149.08 277.99,148.94 277.88,148.81 277.77,148.67 277.66,148.53 277.56,148.39 277.45,148.25 277.35,148.11 277.25,147.97 277.15,147.82 277.05,147.68 276.95,147.54 276.85,147.39 276.75,147.25 276.66,147.11 276.56,146.96 276.47,146.81 276.37,146.67 276.28,146.52 276.19,146.37 276.1,146.23 276.02,146.08 275.93,145.93 275.84,145.78 275.76,145.63 275.67,145.48 275.59,145.33 275.51,145.18 275.43,145.02 275.35,144.87 275.27,144.72 275.2,144.57 275.12,144.41 275.05,144.26 274.97,144.1 274.9,143.95 274.83,143.79 274.76,143.64 274.69,143.48 274.62,143.33 274.56,143.17 274.49,143.01 274.43,142.85 274.37,142.7 274.3,142.54 274.24,142.38 274.18,142.22 274.13,142.06 274.07,141.9 274.01,141.74 273.96,141.58 273.91,141.42 273.86,141.26 273.81,141.1 273.76,140.94 273.71,140.78 273.66,140.62 273.62,140.45 273.57,140.29 273.53,140.13 273.49,139.96 273.44,139.8 273.41,139.64 273.37,139.47 273.33,139.31 273.29,139.15 273.26,138.98 273.23,138.82 273.19,138.65 273.16,138.49 273.13,138.32 273.11,138.16 273.08,137.99 273.05,137.83 273.03,137.66 273,137.5 272.98,137.33 272.96,137.17 272.94,137 272.92,136.83 272.91,136.67 272.89,136.5 272.88,136.33 272.86,136.17 272.85,136 272.84,135.83 272.83,135.67 272.82,135.5 272.82,135.33 272.81,135.17 272.81,135 272.8,134.83 272.8,134.67 272.8,134.5 272.8,103.7 272.8,103.53 272.8,103.37 272.81,103.2 272.81,103.03 272.82,102.87 272.82,102.7 272.83,102.53 272.84,102.37 272.85,102.2 272.86,102.03 272.88,101.87 272.89,101.7 272.91,101.53 272.92,101.37 272.94,101.2 272.96,101.03 272.98,100.87 273,100.7 273.03,100.54 273.05,100.37 273.08,100.21 273.11,100.04 273.13,99.88 273.16,99.71 273.19,99.55 273.23,99.38 273.26,99.22 273.29,99.05 273.33,98.89 273.37,98.73 273.41,98.56 273.44,98.4 273.49,98.24 273.53,98.07 273.57,97.91 273.62,97.75 273.66,97.58 273.71,97.42 273.76,97.26 273.81,97.1 273.86,96.94 273.91,96.78 273.96,96.62 274.01,96.46 274.07,96.3 274.13,96.14 274.18,95.98 274.24,95.82 274.3,95.66 274.37,95.5 274.43,95.35 274.49,95.19 274.56,95.03 274.62,94.87 274.69,94.72 274.76,94.56 274.83,94.41 274.9,94.25 274.97,94.1 275.05,93.94 275.12,93.79 275.2,93.63 275.27,93.48 275.35,93.33 275.43,93.18 275.51,93.02 275.59,92.87 275.67,92.72 275.76,92.57 275.84,92.42 275.93,92.27 276.02,92.12 276.1,91.97 276.19,91.83 276.28,91.68 276.37,91.53 276.47,91.39 276.56,91.24 276.66,91.09 276.75,90.95 276.85,90.81 276.95,90.66 277.05,90.52 277.15,90.38 277.25,90.23 277.35,90.09 277.45,89.95 277.56,89.81 277.66,89.67 277.77,89.53 277.88,89.39 277.99,89.26 278.1,89.12 278.21,88.98 278.32,88.85 278.43,88.71 278.55,88.58 278.66,88.44 278.78,88.31 278.9,88.18 279.01,88.04 279.13,87.91 279.25,87.78 279.37,87.65 279.5,87.52 279.62,87.39 279.74,87.27 279.87,87.14 279.99,87.01 280.12,86.89 280.25,86.76 280.38,86.64 280.51,86.51 280.64,86.39 280.77,86.27 280.9,86.15 281.03,86.03 281.17,85.91 281.3,85.79 281.44,85.67 281.58,85.55 281.72,85.43 281.85,85.32 281.99,85.2 282.13,85.09 282.28,84.97 282.42,84.86 282.56,84.75 282.7,84.64 282.85,84.53 282.99,84.42 283.14,84.31 283.29,84.2 283.44,84.09 283.59,83.99 283.74,83.88 283.89,83.78 284.04,83.67 284.19,83.57 284.34,83.47 284.5,83.37 284.65,83.27 284.8,83.17 284.96,83.07 285.12,82.97 285.27,82.88 285.43,82.78 285.59,82.68 285.75,82.59 285.91,82.5 286.07,82.41 286.23,82.31 286.4,82.22 286.56,82.13 286.72,82.05 286.89,81.96 287.05,81.87 287.22,81.79 287.38,81.7 287.55,81.62 287.72,81.53 287.89,81.45 288.05,81.37 288.22,81.29 288.39,81.21 288.56,81.13 288.74,81.06 288.91,80.98 289.08,80.9 289.25,80.83 289.43,80.76 289.6,80.68 289.77,80.61 289.95,80.54 290.13,80.47 290.3,80.4 290.48,80.34 290.66,80.27 290.83,80.21 291.01,80.14 291.19,80.08 291.37,80.02 291.55,79.95 291.73,79.89 291.91,79.83 292.09,79.78 292.27,79.72 292.45,79.66 292.63,79.61 292.82,79.55 293,79.5 293.18,79.45 293.37,79.4 293.55,79.35 293.74,79.3 293.92,79.25 294.11,79.2 294.29,79.16 294.48,79.11 294.66,79.07 294.85,79.03 295.04,78.98 295.23,78.94 295.41,78.9 295.6,78.87 295.79,78.83 295.98,78.79 296.17,78.76 296.36,78.72 296.54,78.69 296.73,78.66 296.92,78.63 297.11,78.6 297.3,78.57 297.49,78.54 297.69,78.51 297.88,78.49 298.07,78.46 298.26,78.44 298.45,78.42 298.64,78.4 298.83,78.38 299.02,78.36 299.22,78.34 299.41,78.32 299.6,78.31 299.79,78.29 299.99,78.28 300.18,78.27 300.37,78.25 300.56,78.24 300.76,78.23 300.95,78.23 301.14,78.22 301.33,78.21 301.53,78.21 301.72,78.2 301.91,78.2 302.11,78.2 302.3,78.2 302.3,78.2 302.49,78.2 302.69,78.2 302.88,78.21 303.07,78.21 303.27,78.22 303.46,78.23 303.65,78.23 303.84,78.25 304.04,78.26 304.23,78.27 304.42,78.29 304.61,78.3 304.81,78.32 305,78.34 305.19,78.36 305.38,78.38 305.58,78.4 305.77,78.43 305.96,78.45 306.15,78.48 306.34,78.51 306.53,78.54 306.72,78.57 306.91,78.61 307.11,78.64 307.3,78.68 307.49,78.71 307.68,78.75 307.87,78.79 308.06,78.83 308.24,78.88 308.43,78.92 308.62,78.97 308.81,79.01 309,79.06 309.19,79.11 309.37,79.16 309.56,79.22 309.75,79.27 309.94,79.32 310.12,79.38 310.31,79.44 310.49,79.5 310.68,79.56 310.86,79.62 311.05,79.68 311.23,79.75 311.42,79.82 311.6,79.88 311.78,79.95 311.97,80.02 312.15,80.09 312.33,80.17 312.51,80.24 312.69,80.32 312.87,80.39 313.05,80.47 313.23,80.55 313.41,80.63 313.59,80.71 313.77,80.8 313.94,80.88 314.12,80.97 314.3,81.05 314.47,81.14 314.65,81.23 314.83,81.32 315,81.41 315.17,81.51 315.35,81.6 315.52,81.7 315.69,81.8 315.86,81.9 316.04,82 316.21,82.1 316.38,82.2 316.55,82.3 316.71,82.41 316.88,82.51 317.05,82.62 317.22,82.73 317.38,82.84 317.55,82.95 317.71,83.06 317.88,83.18 318.04,83.29 318.2,83.41 318.37,83.52 318.53,83.64 318.69,83.76 318.85,83.88 319.01,84 319.17,84.13 319.33,84.25 319.48,84.38 319.64,84.5 319.8,84.63 319.95,84.76 320.1,84.89 320.1,84.89 320.1,84.89" fill="none" stroke="#3b3b3b" stroke-width="4.6" stroke-linecap="butt" stroke-linejoin="round"/>
<polyline points="324.02,88.87 324.09,88.96 324.22,89.12 324.35,89.28 324.48,89.44 324.61,89.6 324.73,89.77 324.86,89.93 324.98,90.1 325.1,90.27 325.23,90.43 325.35,90.6 325.47,90.77 325.59,90.94 325.7,91.11 325.82,91.28 325.94,91.46 326.05,91.63 326.17,91.8 326.28,91.98 326.39,92.15 326.5,92.33 326.61,92.51 326.72,92.69 326.83,92.87 326.94,93.05 327.04,93.23 327.15,93.41 327.25,93.59 327.35,93.77 327.45,93.96 327.55,94.14 327.65,94.33 327.75,94.51 327.85,94.7 327.94,94.89 328.04,95.08 328.13,95.26 328.23,95.45 328.32,95.64 328.41,95.83 328.5,96.03 328.58,96.22 328.67,96.41 328.76,96.6 328.84,96.8 328.93,96.99 329.01,97.19 329.09,97.38 329.17,97.58 329.17,97.58" fill="none" stroke="#3b3b3b" stroke-width="4.6" stroke-linecap="butt" stroke-linejoin="miter"/>
<polyline points="330.85,102.91 330.89,103.08 330.94,103.29 330.98,103.5 331.03,103.71 331.07,103.92 331.11,104.13 331.16,104.34 331.19,104.55 331.23,104.76 331.27,104.97 331.31,105.19 331.34,105.4 331.37,105.61 331.41,105.82 331.44,106.04 331.47,106.25 331.49,106.46 331.52,106.68 331.55,106.89 331.57,107.11 331.6,107.32 331.62,107.54 331.64,107.75 331.66,107.97 331.68,108.18 331.69,108.4 331.71,108.61 331.72,108.83 331.74,109.04 331.75,109.26 331.76,109.47 331.77,109.69 331.78,109.9 331.78,110.12 331.79,110.34 331.79,110.55 331.8,110.77 331.8,110.98 331.8,111.2 331.8,113" fill="none" stroke="#3b3b3b" stroke-width="4.6" stroke-linecap="butt" stroke-linejoin="miter"/>
<polyline points="331.8,118.59 331.8,127 331.8,127.22 331.8,127.43 331.79,127.65 331.79,127.86 331.78,128.08 331.78,128.3 331.77,128.51 331.76,128.73 331.76,128.75" fill="none" stroke="#3b3b3b" stroke-width="4.6" stroke-linecap="butt" stroke-linejoin="miter"/>
<polyline points="331.07,134.29 331.03,134.49 330.98,134.7 330.94,134.91 330.89,135.12 330.84,135.33 330.79,135.54 330.74,135.75 330.69,135.96 330.64,136.17 330.59,136.37 330.53,136.58 330.47,136.79 330.42,136.99 330.36,137.2 330.3,137.4 330.23,137.61 330.17,137.81 330.11,138.02 330.04,138.22 329.98,138.42 329.91,138.62 329.84,138.83 329.77,139.03 329.7,139.23 329.63,139.43 329.55,139.63 329.48,139.83 329.4,140.03 329.33,140.22 329.25,140.42 329.17,140.62 329.09,140.82 329.01,141.01 328.93,141.21 328.84,141.4 328.76,141.6 328.67,141.79 328.58,141.98 328.5,142.17 328.41,142.37 328.32,142.56 328.23,142.75 328.13,142.94 328.04,143.12 327.94,143.31 327.85,143.5 327.75,143.69 327.67,143.83" fill="none" stroke="#3b3b3b" stroke-width="4.6" stroke-linecap="butt" stroke-linejoin="miter"/>
<polyline points="324.66,148.53 324.61,148.6 324.48,148.76 324.35,148.92 324.22,149.08 324.09,149.24 323.96,149.4 323.83,149.56 323.7,149.72 323.57,149.87 323.43,150.03 323.3,150.18 323.16,150.33 323.02,150.49 322.88,150.64 322.75,150.79 322.61,150.94 322.47,151.09 322.32,151.23 322.18,151.38 322.04,151.52 321.9,151.67 321.75,151.81 321.61,151.95 321.46,152.09 321.31,152.23 321.16,152.37 321.01,152.51 320.86,152.65 320.71,152.78 320.56,152.92 320.41,153.05 320.26,153.18 320.1,153.31 319.95,153.44 319.8,153.57 319.64,153.7 319.48,153.82 319.33,153.95 319.17,154.07 319.01,154.2 318.85,154.32 318.69,154.44 318.53,154.56 318.37,154.68 318.2,154.79 318.04,154.91 317.88,155.02 317.71,155.14 317.55,155.25 317.38,155.36 317.27,155.44" fill="none" stroke="#3b3b3b" stroke-width="4.6" stroke-linecap="butt" stroke-linejoin="miter"/>
<rect x="292" y="91.2" width="19" height="4.8" fill="#3b3b3b"/>
<line x1="283.7" y1="119.5" x2="292.9" y2="119.5" stroke="#3b3b3b" stroke-width="4.2" stroke-linecap="butt"/>
<line x1="297.3" y1="119.5" x2="305.3" y2="119.5" stroke="#3b3b3b" stroke-width="4.2" stroke-linecap="butt"/>
<line x1="310" y1="119.5" x2="318.6" y2="119.5" stroke="#3b3b3b" stroke-width="4.2" stroke-linecap="butt"/>
<polyline points="284.94,152.06 285.08,151.68 285.22,151.3 285.38,150.92 285.55,150.55 285.74,150.18 285.93,149.82 286.14,149.46 286.35,149.11 286.58,148.76 286.82,148.42 287.07,148.09 287.34,147.76 287.61,147.43 287.89,147.12 288.18,146.81 288.49,146.51 288.8,146.21 289.12,145.92 289.45,145.64 289.79,145.37 290.14,145.11 290.5,144.86 290.86,144.61 291.24,144.37 291.62,144.14 292.01,143.93 292.4,143.72 292.8,143.52 293.21,143.33 293.62,143.15 294.04,142.98 294.47,142.82 294.9,142.67 295.33,142.53 295.77,142.4 296.21,142.28 296.66,142.17 297.11,142.08 297.56,141.99 298.02,141.92 298.48,141.85 298.93,141.8 299.4,141.76 299.86,141.73 300.32,141.71 300.78,141.7 301.25,141.7 301.71,141.72 302.17,141.74 302.64,141.78 303.1,141.83 303.55,141.88 304.01,141.95 304.46,142.03 304.92,142.12 305.36,142.23 305.81,142.34 306.25,142.46 306.69,142.6 307.12,142.74 307.55,142.9 307.97,143.06 308.38,143.24 308.8,143.42 309.2,143.62 309.6,143.82 309.99,144.03 310.37,144.26 310.75,144.49 311.12,144.73 311.48,144.98 311.83,145.24 312.18,145.51 312.51,145.78 312.84,146.07 313.16,146.36 313.47,146.66 313.76,146.96 314.05,147.27 314.33,147.59" fill="none" stroke="#3b3b3b" stroke-width="4.6" stroke-linecap="butt" stroke-linejoin="miter"/>
<polygon points="491.3,83.2 491.5,83.2 491.71,83.2 491.91,83.21 492.11,83.21 492.32,83.22 492.52,83.22 492.72,83.23 492.93,83.24 493.13,83.25 493.33,83.26 493.54,83.28 493.74,83.29 493.94,83.3 494.15,83.32 494.35,83.34 494.55,83.36 494.75,83.38 494.96,83.4 495.16,83.42 495.36,83.45 495.56,83.47 495.76,83.5 495.96,83.53 496.17,83.56 496.37,83.59 496.57,83.62 496.77,83.65 496.97,83.69 497.17,83.72 497.37,83.76 497.57,83.79 497.77,83.83 497.97,83.87 498.16,83.92 498.36,83.96 498.56,84 498.76,84.05 498.96,84.09 499.15,84.14 499.35,84.19 499.55,84.24 499.74,84.29 499.94,84.34 500.13,84.39 500.33,84.45 500.52,84.5 500.72,84.56 500.91,84.62 501.1,84.68 501.3,84.74 501.49,84.8 501.68,84.86 501.87,84.93 502.06,84.99 502.25,85.06 502.45,85.13 502.64,85.19 502.82,85.26 503.01,85.34 503.2,85.41 503.39,85.48 503.58,85.56 503.76,85.63 503.95,85.71 504.14,85.78 504.32,85.86 504.5,85.94 504.69,86.03 504.87,86.11 505.06,86.19 505.24,86.28 505.42,86.36 505.6,86.45 505.78,86.54 505.96,86.62 506.14,86.71 506.32,86.81 506.5,86.9 506.67,86.99 506.85,87.09 507.03,87.18 507.2,87.28 507.38,87.37 507.55,87.47 507.72,87.57 507.9,87.67 508.07,87.78 508.24,87.88 508.41,87.98 508.58,88.09 508.75,88.19 508.92,88.3 509.08,88.41 509.25,88.52 509.42,88.63 509.58,88.74 509.74,88.85 509.91,88.96 510.07,89.08 510.23,89.19 510.39,89.31 510.55,89.43 510.71,89.54 510.87,89.66 511.03,89.78 511.19,89.9 511.34,90.03 511.5,90.15 511.65,90.27 511.81,90.4 511.96,90.52 512.11,90.65 512.26,90.78 512.41,90.9 512.56,91.03 512.71,91.16 512.86,91.3 513,91.43 513.15,91.56 513.29,91.69 513.43,91.83 513.58,91.96 513.72,92.1 513.86,92.24 514,92.38 514.14,92.51 514.28,92.65 514.41,92.8 514.55,92.94 514.68,93.08 514.82,93.22 514.95,93.37 515.08,93.51 515.21,93.66 515.34,93.8 515.47,93.95 515.6,94.1 515.72,94.25 515.85,94.4 515.97,94.55 516.1,94.7 516.22,94.85 516.34,95 516.46,95.15 516.58,95.31 516.7,95.46 516.81,95.62 516.93,95.77 517.05,95.93 517.16,96.09 517.27,96.25 517.38,96.41 517.49,96.56 517.6,96.73 517.71,96.89 517.82,97.05 517.92,97.21 518.03,97.37 518.13,97.54 518.23,97.7 518.33,97.86 518.43,98.03 518.53,98.2 518.63,98.36 518.73,98.53 518.82,98.7 518.92,98.87 519.01,99.03 519.1,99.2 519.19,99.37 519.28,99.54 519.37,99.72 519.46,99.89 519.54,100.06 519.63,100.23 519.71,100.4 519.79,100.58 519.87,100.75 519.95,100.93 520.03,101.1 520.11,101.28 520.19,101.45 520.26,101.63 520.33,101.81 520.41,101.98 520.48,102.16 520.55,102.34 520.62,102.52 520.68,102.7 520.75,102.88 520.81,103.06 520.88,103.24 520.94,103.42 521,103.6 521.06,103.78 521.12,103.96 521.18,104.15 521.23,104.33 521.29,104.51 521.34,104.69 521.39,104.88 521.44,105.06 521.49,105.25 521.54,105.43 521.59,105.61 521.63,105.8 521.68,105.99 521.72,106.17 521.76,106.36 521.8,106.54 521.84,106.73 521.88,106.92 521.92,107.1 521.95,107.29 521.98,107.48 522.02,107.66 522.05,107.85 522.08,108.04 522.11,108.23 522.13,108.41 522.16,108.6 522.18,108.79 522.21,108.98 522.23,109.17 522.25,109.36 522.27,109.55 522.29,109.74 522.3,109.92 522.32,110.11 522.33,110.3 522.35,110.49 522.36,110.68 522.37,110.87 522.38,111.06 522.38,111.25 522.39,111.44 522.39,111.63 522.4,111.82 522.4,112.01 522.4,112.2 522.4,137.4 522.4,137.59 522.4,137.78 522.39,137.97 522.39,138.16 522.38,138.35 522.38,138.54 522.37,138.73 522.36,138.92 522.35,139.11 522.33,139.3 522.32,139.49 522.3,139.68 522.29,139.86 522.27,140.05 522.25,140.24 522.23,140.43 522.21,140.62 522.18,140.81 522.16,141 522.13,141.19 522.11,141.37 522.08,141.56 522.05,141.75 522.02,141.94 521.98,142.12 521.95,142.31 521.92,142.5 521.88,142.68 521.84,142.87 521.8,143.06 521.76,143.24 521.72,143.43 521.68,143.61 521.63,143.8 521.59,143.99 521.54,144.17 521.49,144.35 521.44,144.54 521.39,144.72 521.34,144.91 521.29,145.09 521.23,145.27 521.18,145.45 521.12,145.64 521.06,145.82 521,146 520.94,146.18 520.88,146.36 520.81,146.54 520.75,146.72 520.68,146.9 520.62,147.08 520.55,147.26 520.48,147.44 520.41,147.62 520.33,147.79 520.26,147.97 520.19,148.15 520.11,148.32 520.03,148.5 519.95,148.67 519.87,148.85 519.79,149.02 519.71,149.2 519.63,149.37 519.54,149.54 519.46,149.71 519.37,149.88 519.28,150.06 519.19,150.23 519.1,150.4 519.01,150.57 518.92,150.73 518.82,150.9 518.73,151.07 518.63,151.24 518.53,151.4 518.43,151.57 518.33,151.74 518.23,151.9 518.13,152.06 518.03,152.23 517.92,152.39 517.82,152.55 517.71,152.71 517.6,152.87 517.49,153.04 517.38,153.19 517.27,153.35 517.16,153.51 517.05,153.67 516.93,153.83 516.81,153.98 516.7,154.14 516.58,154.29 516.46,154.45 516.34,154.6 516.22,154.75 516.1,154.9 515.97,155.05 515.85,155.2 515.72,155.35 515.6,155.5 515.47,155.65 515.34,155.8 515.21,155.94 515.08,156.09 514.95,156.23 514.82,156.38 514.68,156.52 514.55,156.66 514.41,156.8 514.28,156.95 514.14,157.09 514,157.22 513.86,157.36 513.72,157.5 513.58,157.64 513.43,157.77 513.29,157.91 513.15,158.04 513,158.17 512.86,158.3 512.71,158.44 512.56,158.57 512.41,158.7 512.26,158.82 512.11,158.95 511.96,159.08 511.81,159.2 511.65,159.33 511.5,159.45 511.34,159.57 511.19,159.7 511.03,159.82 510.87,159.94 510.71,160.06 510.55,160.17 510.39,160.29 510.23,160.41 510.07,160.52 509.91,160.64 509.74,160.75 509.58,160.86 509.42,160.97 509.25,161.08 509.08,161.19 508.92,161.3 508.75,161.41 508.58,161.51 508.41,161.62 508.24,161.72 508.07,161.82 507.9,161.93 507.72,162.03 507.55,162.13 507.38,162.23 507.2,162.32 507.03,162.42 506.85,162.51 506.67,162.61 506.5,162.7 506.32,162.79 506.14,162.89 505.96,162.98 505.78,163.06 505.6,163.15 505.42,163.24 505.24,163.32 505.06,163.41 504.87,163.49 504.69,163.57 504.5,163.66 504.32,163.74 504.14,163.82 503.95,163.89 503.76,163.97 503.58,164.04 503.39,164.12 503.2,164.19 503.01,164.26 502.82,164.34 502.64,164.41 502.45,164.47 502.25,164.54 502.06,164.61 501.87,164.67 501.68,164.74 501.49,164.8 501.3,164.86 501.1,164.92 500.91,164.98 500.72,165.04 500.52,165.1 500.33,165.15 500.13,165.21 499.94,165.26 499.74,165.31 499.55,165.36 499.35,165.41 499.15,165.46 498.96,165.51 498.76,165.55 498.56,165.6 498.36,165.64 498.16,165.68 497.97,165.73 497.77,165.77 497.57,165.81 497.37,165.84 497.17,165.88 496.97,165.91 496.77,165.95 496.57,165.98 496.37,166.01 496.17,166.04 495.96,166.07 495.76,166.1 495.56,166.13 495.36,166.15 495.16,166.18 494.96,166.2 494.75,166.22 494.55,166.24 494.35,166.26 494.15,166.28 493.94,166.3 493.74,166.31 493.54,166.32 493.33,166.34 493.13,166.35 492.93,166.36 492.72,166.37 492.52,166.38 492.32,166.38 492.11,166.39 491.91,166.39 491.71,166.4 491.5,166.4 491.3,166.4 491.1,166.4 490.89,166.4 490.69,166.39 490.49,166.39 490.28,166.38 490.08,166.38 489.88,166.37 489.67,166.36 489.47,166.35 489.27,166.34 489.06,166.32 488.86,166.31 488.66,166.3 488.45,166.28 488.25,166.26 488.05,166.24 487.85,166.22 487.64,166.2 487.44,166.18 487.24,166.15 487.04,166.13 486.84,166.1 486.64,166.07 486.43,166.04 486.23,166.01 486.03,165.98 485.83,165.95 485.63,165.91 485.43,165.88 485.23,165.84 485.03,165.81 484.83,165.77 484.63,165.73 484.44,165.68 484.24,165.64 484.04,165.6 483.84,165.55 483.64,165.51 483.45,165.46 483.25,165.41 483.05,165.36 482.86,165.31 482.66,165.26 482.47,165.21 482.27,165.15 482.08,165.1 481.88,165.04 481.69,164.98 481.5,164.92 481.3,164.86 481.11,164.8 480.92,164.74 480.73,164.67 480.54,164.61 480.35,164.54 480.15,164.47 479.96,164.41 479.78,164.34 479.59,164.26 479.4,164.19 479.21,164.12 479.02,164.04 478.84,163.97 478.65,163.89 478.46,163.82 478.28,163.74 478.1,163.66 477.91,163.57 477.73,163.49 477.54,163.41 477.36,163.32 477.18,163.24 477,163.15 476.82,163.06 476.64,162.98 476.46,162.89 476.28,162.79 476.1,162.7 475.93,162.61 475.75,162.51 475.57,162.42 475.4,162.32 475.22,162.23 475.05,162.13 474.88,162.03 474.7,161.93 474.53,161.82 474.36,161.72 474.19,161.62 474.02,161.51 473.85,161.41 473.68,161.3 473.52,161.19 473.35,161.08 473.18,160.97 473.02,160.86 472.86,160.75 472.69,160.64 472.53,160.52 472.37,160.41 472.21,160.29 472.05,160.17 471.89,160.06 471.73,159.94 471.57,159.82 471.41,159.7 471.26,159.57 471.1,159.45 470.95,159.33 470.79,159.2 470.64,159.08 470.49,158.95 470.34,158.82 470.19,158.7 470.04,158.57 469.89,158.44 469.74,158.3 469.6,158.17 469.45,158.04 469.31,157.91 469.17,157.77 469.02,157.64 468.88,157.5 468.74,157.36 468.6,157.22 468.46,157.09 468.32,156.95 468.19,156.8 468.05,156.66 467.92,156.52 467.78,156.38 467.65,156.23 467.52,156.09 467.39,155.94 467.26,155.8 467.13,155.65 467,155.5 466.88,155.35 466.75,155.2 466.63,155.05 466.5,154.9 466.38,154.75 466.26,154.6 466.14,154.45 466.02,154.29 465.9,154.14 465.79,153.98 465.67,153.83 465.55,153.67 465.44,153.51 465.33,153.35 465.22,153.19 465.11,153.04 465,152.87 464.89,152.71 464.78,152.55 464.68,152.39 464.57,152.23 464.47,152.06 464.37,151.9 464.27,151.74 464.17,151.57 464.07,151.4 463.97,151.24 463.87,151.07 463.78,150.9 463.68,150.73 463.59,150.57 463.5,150.4 463.41,150.23 463.32,150.06 463.23,149.88 463.14,149.71 463.06,149.54 462.97,149.37 462.89,149.2 462.81,149.02 462.73,148.85 462.65,148.67 462.57,148.5 462.49,148.32 462.41,148.15 462.34,147.97 462.27,147.79 462.19,147.62 462.12,147.44 462.05,147.26 461.98,147.08 461.92,146.9 461.85,146.72 461.79,146.54 461.72,146.36 461.66,146.18 461.6,146 461.54,145.82 461.48,145.64 461.42,145.45 461.37,145.27 461.31,145.09 461.26,144.91 461.21,144.72 461.16,144.54 461.11,144.35 461.06,144.17 461.01,143.99 460.97,143.8 460.92,143.61 460.88,143.43 460.84,143.24 460.8,143.06 460.76,142.87 460.72,142.68 460.68,142.5 460.65,142.31 460.62,142.12 460.58,141.94 460.55,141.75 460.52,141.56 460.49,141.37 460.47,141.19 460.44,141 460.42,140.81 460.39,140.62 460.37,140.43 460.35,140.24 460.33,140.05 460.31,139.86 460.3,139.68 460.28,139.49 460.27,139.3 460.25,139.11 460.24,138.92 460.23,138.73 460.22,138.54 460.22,138.35 460.21,138.16 460.21,137.97 460.2,137.78 460.2,137.59 460.2,137.4 460.2,112.2 460.2,112.01 460.2,111.82 460.21,111.63 460.21,111.44 460.22,111.25 460.22,111.06 460.23,110.87 460.24,110.68 460.25,110.49 460.27,110.3 460.28,110.11 460.3,109.92 460.31,109.74 460.33,109.55 460.35,109.36 460.37,109.17 460.39,108.98 460.42,108.79 460.44,108.6 460.47,108.41 460.49,108.23 460.52,108.04 460.55,107.85 460.58,107.66 460.62,107.48 460.65,107.29 460.68,107.1 460.72,106.92 460.76,106.73 460.8,106.54 460.84,106.36 460.88,106.17 460.92,105.99 460.97,105.8 461.01,105.61 461.06,105.43 461.11,105.25 461.16,105.06 461.21,104.88 461.26,104.69 461.31,104.51 461.37,104.33 461.42,104.15 461.48,103.96 461.54,103.78 461.6,103.6 461.66,103.42 461.72,103.24 461.79,103.06 461.85,102.88 461.92,102.7 461.98,102.52 462.05,102.34 462.12,102.16 462.19,101.98 462.27,101.81 462.34,101.63 462.41,101.45 462.49,101.28 462.57,101.1 462.65,100.93 462.73,100.75 462.81,100.58 462.89,100.4 462.97,100.23 463.06,100.06 463.14,99.89 463.23,99.72 463.32,99.54 463.41,99.37 463.5,99.2 463.59,99.03 463.68,98.87 463.78,98.7 463.87,98.53 463.97,98.36 464.07,98.2 464.17,98.03 464.27,97.86 464.37,97.7 464.47,97.54 464.57,97.37 464.68,97.21 464.78,97.05 464.89,96.89 465,96.73 465.11,96.56 465.22,96.41 465.33,96.25 465.44,96.09 465.55,95.93 465.67,95.77 465.79,95.62 465.9,95.46 466.02,95.31 466.14,95.15 466.26,95 466.38,94.85 466.5,94.7 466.63,94.55 466.75,94.4 466.88,94.25 467,94.1 467.13,93.95 467.26,93.8 467.39,93.66 467.52,93.51 467.65,93.37 467.78,93.22 467.92,93.08 468.05,92.94 468.19,92.8 468.32,92.65 468.46,92.51 468.6,92.38 468.74,92.24 468.88,92.1 469.02,91.96 469.17,91.83 469.31,91.69 469.45,91.56 469.6,91.43 469.74,91.3 469.89,91.16 470.04,91.03 470.19,90.9 470.34,90.78 470.49,90.65 470.64,90.52 470.79,90.4 470.95,90.27 471.1,90.15 471.26,90.03 471.41,89.9 471.57,89.78 471.73,89.66 471.89,89.54 472.05,89.43 472.21,89.31 472.37,89.19 472.53,89.08 472.69,88.96 472.86,88.85 473.02,88.74 473.18,88.63 473.35,88.52 473.52,88.41 473.68,88.3 473.85,88.19 474.02,88.09 474.19,87.98 474.36,87.88 474.53,87.78 474.7,87.67 474.88,87.57 475.05,87.47 475.22,87.37 475.4,87.28 475.57,87.18 475.75,87.09 475.93,86.99 476.1,86.9 476.28,86.81 476.46,86.71 476.64,86.62 476.82,86.54 477,86.45 477.18,86.36 477.36,86.28 477.54,86.19 477.73,86.11 477.91,86.03 478.1,85.94 478.28,85.86 478.46,85.78 478.65,85.71 478.84,85.63 479.02,85.56 479.21,85.48 479.4,85.41 479.59,85.34 479.78,85.26 479.96,85.19 480.15,85.13 480.35,85.06 480.54,84.99 480.73,84.93 480.92,84.86 481.11,84.8 481.3,84.74 481.5,84.68 481.69,84.62 481.88,84.56 482.08,84.5 482.27,84.45 482.47,84.39 482.66,84.34 482.86,84.29 483.05,84.24 483.25,84.19 483.45,84.14 483.64,84.09 483.84,84.05 484.04,84 484.24,83.96 484.44,83.92 484.63,83.87 484.83,83.83 485.03,83.79 485.23,83.76 485.43,83.72 485.63,83.69 485.83,83.65 486.03,83.62 486.23,83.59 486.43,83.56 486.64,83.53 486.84,83.5 487.04,83.47 487.24,83.45 487.44,83.42 487.64,83.4 487.85,83.38 488.05,83.36 488.25,83.34 488.45,83.32 488.66,83.3 488.86,83.29 489.06,83.28 489.27,83.26 489.47,83.25 489.67,83.24 489.88,83.23 490.08,83.22 490.28,83.22 490.49,83.21 490.69,83.21 490.89,83.2 491.1,83.2 491.3,83.2" fill="none" stroke="#3b3b3b" stroke-width="4.6" stroke-linecap="butt" stroke-linejoin="round"/>
<line x1="519.2" y1="126" x2="525" y2="126" stroke="#000" stroke-width="1.6" stroke-linecap="butt"/>
<line x1="509.5" y1="155.5" x2="509.5" y2="164" stroke="#000" stroke-width="1.1" stroke-linecap="butt"/>
<line x1="472.5" y1="156" x2="472.5" y2="170" stroke="#000" stroke-width="1" stroke-linecap="butt"/>
<rect x="479.9" y="96.8" width="22.2" height="5.4" fill="#3b3b3b"/>
<line x1="471.7" y1="125.9" x2="480.6" y2="125.9" stroke="#3b3b3b" stroke-width="4.2" stroke-linecap="butt"/>
<line x1="486.9" y1="125.9" x2="495.5" y2="125.9" stroke="#3b3b3b" stroke-width="4.2" stroke-linecap="butt"/>
<line x1="501.3" y1="125.9" x2="509.8" y2="125.9" stroke="#3b3b3b" stroke-width="4.2" stroke-linecap="butt"/>
<polyline points="472.84,159.64 472.91,159.17 472.99,158.71 473.1,158.25 473.24,157.8 473.4,157.34 473.59,156.9 473.8,156.45 474.04,156.02 474.3,155.59 474.58,155.16 474.89,154.75 475.22,154.34 475.57,153.94 475.95,153.55 476.34,153.17 476.76,152.8 477.19,152.44 477.65,152.09 478.13,151.75 478.62,151.43 479.13,151.12 479.66,150.82 480.2,150.54 480.76,150.27 481.33,150.01 481.92,149.77 482.52,149.55 483.14,149.34 483.76,149.14 484.39,148.96 485.04,148.8 485.69,148.65 486.35,148.53 487.01,148.41 487.69,148.32 488.36,148.24 489.04,148.18 489.73,148.13 490.41,148.11 491.1,148.1 491.79,148.11 492.47,148.13 493.16,148.18 493.84,148.24 494.51,148.32 495.19,148.41 495.85,148.53 496.51,148.65 497.16,148.8 497.81,148.96 498.44,149.14 499.06,149.34 499.68,149.55 500.28,149.77 500.87,150.01 501.44,150.27 502,150.54 502.54,150.82 503.07,151.12 503.58,151.43 504.07,151.75 504.55,152.09 505.01,152.44 505.44,152.8 505.86,153.17 506.25,153.55 506.63,153.94 506.98,154.34 507.31,154.75 507.62,155.16 507.9,155.59 508.16,156.02 508.4,156.45 508.61,156.9 508.8,157.34 508.96,157.8 509.1,158.25 509.21,158.71 509.29,159.17 509.36,159.64" fill="none" stroke="#3b3b3b" stroke-width="4.6" stroke-linecap="butt" stroke-linejoin="miter"/>
<line x1="199.5" y1="8.5" x2="246.5" y2="8.5" stroke="#000" stroke-width="1" stroke-linecap="butt"/>
<line x1="199.5" y1="8" x2="199.5" y2="41" stroke="#000" stroke-width="1" stroke-linecap="butt"/>
<line x1="246.5" y1="8" x2="246.5" y2="401.5" stroke="#000" stroke-width="1" stroke-linecap="butt"/>
<line x1="94.5" y1="68.5" x2="182" y2="68.5" stroke="#000" stroke-width="1" stroke-linecap="butt"/>
<line x1="94.5" y1="68" x2="94.5" y2="119.3" stroke="#000" stroke-width="1" stroke-linecap="butt"/>
<line x1="94.5" y1="125.8" x2="94.5" y2="205.5" stroke="#000" stroke-width="1" stroke-linecap="butt"/>
<line x1="94" y1="205.5" x2="183" y2="205.5" stroke="#000" stroke-width="1" stroke-linecap="butt"/>
<line x1="128.5" y1="68.5" x2="128.5" y2="110.5" stroke="#000" stroke-width="1" stroke-linecap="butt"/>
<line x1="128.5" y1="136.5" x2="128.5" y2="160.5" stroke="#000" stroke-width="1" stroke-linecap="butt"/>
<line x1="128" y1="160.5" x2="183" y2="160.5" stroke="#000" stroke-width="1" stroke-linecap="butt"/>
<line x1="182.5" y1="99" x2="182.5" y2="234" stroke="#000" stroke-width="1" stroke-linecap="butt"/>
<line x1="182.5" y1="119.5" x2="284" y2="119.5" stroke="#000" stroke-width="1" stroke-linecap="butt"/>
<line x1="85.3" y1="119.5" x2="104" y2="119.5" stroke="#000" stroke-width="1" stroke-linecap="butt"/>
<line x1="85.3" y1="125.5" x2="104" y2="125.5" stroke="#000" stroke-width="1" stroke-linecap="butt"/>
<circle cx="128.5" cy="68.5" r="2.6" fill="#000"/>
<circle cx="182.5" cy="119" r="2.6" fill="#000"/>
<circle cx="182.5" cy="160" r="2.6" fill="#000"/>
<circle cx="182.5" cy="205" r="2.6" fill="#000"/>
<rect x="123.8" y="110.5" width="9.7" height="26" fill="#1010dc" stroke="#00006a" stroke-width="1"/>
<rect x="177.5" y="125.5" width="10" height="25.8" fill="#1010dc" stroke="#00006a" stroke-width="1"/>
<rect x="177.5" y="170" width="10" height="25.5" fill="#1010dc" stroke="#00006a" stroke-width="1"/>
<line x1="301.5" y1="44.5" x2="347.5" y2="44.5" stroke="#000" stroke-width="1" stroke-linecap="butt"/>
<line x1="301.5" y1="44" x2="301.5" y2="92" stroke="#000" stroke-width="1" stroke-linecap="butt"/>
<line x1="347.5" y1="44" x2="347.5" y2="394" stroke="#000" stroke-width="1" stroke-linecap="butt"/>
<line x1="284.5" y1="150" x2="284.5" y2="280" stroke="#000" stroke-width="1" stroke-linecap="butt"/>
<line x1="284.5" y1="188.5" x2="312.5" y2="188.5" stroke="#000" stroke-width="1" stroke-linecap="butt"/>
<line x1="312.5" y1="188" x2="312.5" y2="222.5" stroke="#000" stroke-width="1" stroke-linecap="butt"/>
<line x1="312.5" y1="229" x2="312.5" y2="280" stroke="#000" stroke-width="1" stroke-linecap="butt"/>
<circle cx="284.5" cy="188.5" r="2.6" fill="#000"/>
<rect x="280.5" y="213.1" width="8.5" height="25.9" fill="#1010dc" stroke="#00006a" stroke-width="1"/>
<rect x="303.5" y="222.5" width="18" height="3" fill="#fff" stroke="#000" stroke-width="1"/>
<line x1="303" y1="229.5" x2="322" y2="229.5" stroke="#000" stroke-width="1.2" stroke-linecap="butt"/>
<line x1="316.6" y1="214.5" x2="322.8" y2="214.5" stroke="#000" stroke-width="1.1" stroke-linecap="butt"/>
<line x1="319.5" y1="211.5" x2="319.5" y2="218" stroke="#000" stroke-width="1.1" stroke-linecap="butt"/>
<line x1="277.1" y1="280" x2="292.3" y2="280" stroke="#000" stroke-width="3" stroke-linecap="round"/>
<line x1="305.1" y1="280" x2="319.9" y2="280" stroke="#000" stroke-width="3" stroke-linecap="round"/>
<line x1="347.5" y1="125.5" x2="367.5" y2="125.5" stroke="#000" stroke-width="1" stroke-linecap="butt"/>
<line x1="374.3" y1="125.5" x2="471.5" y2="125.5" stroke="#000" stroke-width="1" stroke-linecap="butt"/>
<line x1="367.5" y1="116" x2="367.5" y2="134.8" stroke="#000" stroke-width="1" stroke-linecap="butt"/>
<line x1="374.5" y1="116" x2="374.5" y2="134.8" stroke="#000" stroke-width="1" stroke-linecap="butt"/>
<circle cx="347.5" cy="125.5" r="2.6" fill="#000"/>
<circle cx="392.5" cy="125.5" r="2.6" fill="#000"/>
<rect x="416.9" y="120.6" width="25.4" height="9.5" fill="#1010dc" stroke="#00006a" stroke-width="1"/>
<line x1="392.5" y1="125.5" x2="392.5" y2="266" stroke="#000" stroke-width="1" stroke-linecap="butt"/>
<rect x="387.8" y="199.5" width="9.4" height="25.7" fill="#1010dc" stroke="#00006a" stroke-width="1"/>
<polygon points="385.2,271.8 392.4,265.9 399.6,271.8 399.6,310.7 385.2,310.7" fill="#fff" stroke="#000" stroke-width="1.1" stroke-linecap="butt" stroke-linejoin="miter"/>
<line x1="489.5" y1="64.5" x2="489.5" y2="97" stroke="#000" stroke-width="1" stroke-linecap="butt"/>
<line x1="489" y1="65.5" x2="555" y2="65.5" stroke="#000" stroke-width="1" stroke-linecap="butt"/>
<line x1="472.5" y1="157" x2="472.5" y2="319" stroke="#000" stroke-width="1" stroke-linecap="butt"/>
<rect x="467.6" y="237.7" width="10" height="25.1" fill="#1010dc" stroke="#00006a" stroke-width="1"/>
<line x1="465.3" y1="319" x2="479.9" y2="319" stroke="#000" stroke-width="3" stroke-linecap="round"/>
<rect x="559" y="63.6" width="8.4" height="94.8" fill="#26e026"/>
<polyline points="554.6,65 555.16,65.06 555.71,65.22 556.23,65.5 556.72,65.87 557.15,66.34 557.51,66.88 557.81,67.49 558.02,68.15 558.16,68.85 558.2,69.56 558.16,70.27 558.02,70.97 557.81,71.63 557.51,72.24 557.15,72.78 556.72,73.25 556.23,73.62 555.71,73.9 555.16,74.06 554.6,74.12 554.6,74.12 555.16,74.18 555.71,74.34 556.23,74.62 556.72,74.99 557.15,75.46 557.51,76 557.81,76.61 558.02,77.27 558.16,77.97 558.2,78.68 558.16,79.39 558.02,80.09 557.81,80.75 557.51,81.36 557.15,81.9 556.72,82.37 556.23,82.74 555.71,83.02 555.16,83.18 554.6,83.24 554.6,83.24 555.16,83.3 555.71,83.46 556.23,83.74 556.72,84.11 557.15,84.58 557.51,85.12 557.81,85.73 558.02,86.39 558.16,87.09 558.2,87.8 558.16,88.51 558.02,89.21 557.81,89.87 557.51,90.48 557.15,91.02 556.72,91.49 556.23,91.86 555.71,92.14 555.16,92.3 554.6,92.36 554.6,92.36 555.16,92.42 555.71,92.58 556.23,92.86 556.72,93.23 557.15,93.7 557.51,94.24 557.81,94.85 558.02,95.51 558.16,96.21 558.2,96.92 558.16,97.63 558.02,98.33 557.81,98.99 557.51,99.6 557.15,100.14 556.72,100.61 556.23,100.98 555.71,101.26 555.16,101.42 554.6,101.48 554.6,101.48 555.16,101.54 555.71,101.7 556.23,101.98 556.72,102.35 557.15,102.82 557.51,103.36 557.81,103.97 558.02,104.63 558.16,105.33 558.2,106.04 558.16,106.75 558.02,107.45 557.81,108.11 557.51,108.72 557.15,109.26 556.72,109.73 556.23,110.1 555.71,110.38 555.16,110.54 554.6,110.6 554.6,110.6 555.16,110.66 555.71,110.82 556.23,111.1 556.72,111.47 557.15,111.94 557.51,112.48 557.81,113.09 558.02,113.75 558.16,114.45 558.2,115.16 558.16,115.87 558.02,116.57 557.81,117.23 557.51,117.84 557.15,118.38 556.72,118.85 556.23,119.22 555.71,119.5 555.16,119.66 554.6,119.72 554.6,119.72 555.16,119.78 555.71,119.94 556.23,120.22 556.72,120.59 557.15,121.06 557.51,121.6 557.81,122.21 558.02,122.87 558.16,123.57 558.2,124.28 558.16,124.99 558.02,125.69 557.81,126.35 557.51,126.96 557.15,127.5 556.72,127.97 556.23,128.34 555.71,128.62 555.16,128.78 554.6,128.84 554.6,128.84 555.16,128.9 555.71,129.06 556.23,129.34 556.72,129.71 557.15,130.18 557.51,130.72 557.81,131.33 558.02,131.99 558.16,132.69 558.2,133.4 558.16,134.11 558.02,134.81 557.81,135.47 557.51,136.08 557.15,136.62 556.72,137.09 556.23,137.46 555.71,137.74 555.16,137.9 554.6,137.96 554.6,137.96 555.16,138.02 555.71,138.18 556.23,138.46 556.72,138.83 557.15,139.3 557.51,139.84 557.81,140.45 558.02,141.11 558.16,141.81 558.2,142.52 558.16,143.23 558.02,143.93 557.81,144.59 557.51,145.2 557.15,145.74 556.72,146.21 556.23,146.58 555.71,146.86 555.16,147.02 554.6,147.08 554.6,147.08 555.16,147.14 555.71,147.3 556.23,147.58 556.72,147.95 557.15,148.42 557.51,148.96 557.81,149.57 558.02,150.23 558.16,150.93 558.2,151.64 558.16,152.35 558.02,153.05 557.81,153.71 557.51,154.32 557.15,154.86 556.72,155.33 556.23,155.7 555.71,155.98 555.16,156.14 554.6,156.2" fill="none" stroke="#000" stroke-width="1.1" stroke-linecap="butt" stroke-linejoin="miter"/>
<line x1="551.2" y1="74.5" x2="555" y2="74.5" stroke="#000" stroke-width="1.1" stroke-linecap="butt"/>
<line x1="551.2" y1="83.5" x2="555" y2="83.5" stroke="#000" stroke-width="1.1" stroke-linecap="butt"/>
<line x1="551.2" y1="92.5" x2="555" y2="92.5" stroke="#000" stroke-width="1.1" stroke-linecap="butt"/>
<line x1="551.2" y1="101.5" x2="555" y2="101.5" stroke="#000" stroke-width="1.1" stroke-linecap="butt"/>
<line x1="551.2" y1="110.5" x2="555" y2="110.5" stroke="#000" stroke-width="1.1" stroke-linecap="butt"/>
<line x1="551.2" y1="119.5" x2="555" y2="119.5" stroke="#000" stroke-width="1.1" stroke-linecap="butt"/>
<line x1="551.2" y1="128.5" x2="555" y2="128.5" stroke="#000" stroke-width="1.1" stroke-linecap="butt"/>
<line x1="551.2" y1="137.5" x2="555" y2="137.5" stroke="#000" stroke-width="1.1" stroke-linecap="butt"/>
<line x1="551.2" y1="147.5" x2="555" y2="147.5" stroke="#000" stroke-width="1.1" stroke-linecap="butt"/>
<polyline points="572.8,65 572.27,65.06 571.75,65.22 571.26,65.5 570.8,65.87 570.4,66.34 570.05,66.88 569.77,67.49 569.57,68.15 569.44,68.85 569.4,69.56 569.44,70.27 569.57,70.97 569.77,71.63 570.05,72.24 570.4,72.78 570.8,73.25 571.26,73.62 571.75,73.9 572.27,74.06 572.8,74.12 572.8,74.12 572.27,74.18 571.75,74.34 571.26,74.62 570.8,74.99 570.4,75.46 570.05,76 569.77,76.61 569.57,77.27 569.44,77.97 569.4,78.68 569.44,79.39 569.57,80.09 569.77,80.75 570.05,81.36 570.4,81.9 570.8,82.37 571.26,82.74 571.75,83.02 572.27,83.18 572.8,83.24 572.8,83.24 572.27,83.3 571.75,83.46 571.26,83.74 570.8,84.11 570.4,84.58 570.05,85.12 569.77,85.73 569.57,86.39 569.44,87.09 569.4,87.8 569.44,88.51 569.57,89.21 569.77,89.87 570.05,90.48 570.4,91.02 570.8,91.49 571.26,91.86 571.75,92.14 572.27,92.3 572.8,92.36 572.8,92.36 572.27,92.42 571.75,92.58 571.26,92.86 570.8,93.23 570.4,93.7 570.05,94.24 569.77,94.85 569.57,95.51 569.44,96.21 569.4,96.92 569.44,97.63 569.57,98.33 569.77,98.99 570.05,99.6 570.4,100.14 570.8,100.61 571.26,100.98 571.75,101.26 572.27,101.42 572.8,101.48 572.8,101.48 572.27,101.54 571.75,101.7 571.26,101.98 570.8,102.35 570.4,102.82 570.05,103.36 569.77,103.97 569.57,104.63 569.44,105.33 569.4,106.04 569.44,106.75 569.57,107.45 569.77,108.11 570.05,108.72 570.4,109.26 570.8,109.73 571.26,110.1 571.75,110.38 572.27,110.54 572.8,110.6 572.8,110.6 572.27,110.66 571.75,110.82 571.26,111.1 570.8,111.47 570.4,111.94 570.05,112.48 569.77,113.09 569.57,113.75 569.44,114.45 569.4,115.16 569.44,115.87 569.57,116.57 569.77,117.23 570.05,117.84 570.4,118.38 570.8,118.85 571.26,119.22 571.75,119.5 572.27,119.66 572.8,119.72 572.8,119.72 572.27,119.78 571.75,119.94 571.26,120.22 570.8,120.59 570.4,121.06 570.05,121.6 569.77,122.21 569.57,122.87 569.44,123.57 569.4,124.28 569.44,124.99 569.57,125.69 569.77,126.35 570.05,126.96 570.4,127.5 570.8,127.97 571.26,128.34 571.75,128.62 572.27,128.78 572.8,128.84 572.8,128.84 572.27,128.9 571.75,129.06 571.26,129.34 570.8,129.71 570.4,130.18 570.05,130.72 569.77,131.33 569.57,131.99 569.44,132.69 569.4,133.4 569.44,134.11 569.57,134.81 569.77,135.47 570.05,136.08 570.4,136.62 570.8,137.09 571.26,137.46 571.75,137.74 572.27,137.9 572.8,137.96 572.8,137.96 572.27,138.02 571.75,138.18 571.26,138.46 570.8,138.83 570.4,139.3 570.05,139.84 569.77,140.45 569.57,141.11 569.44,141.81 569.4,142.52 569.44,143.23 569.57,143.93 569.77,144.59 570.05,145.2 570.4,145.74 570.8,146.21 571.26,146.58 571.75,146.86 572.27,147.02 572.8,147.08 572.8,147.08 572.27,147.14 571.75,147.3 571.26,147.58 570.8,147.95 570.4,148.42 570.05,148.96 569.77,149.57 569.57,150.23 569.44,150.93 569.4,151.64 569.44,152.35 569.57,153.05 569.77,153.71 570.05,154.32 570.4,154.86 570.8,155.33 571.26,155.7 571.75,155.98 572.27,156.14 572.8,156.2" fill="none" stroke="#000" stroke-width="1.1" stroke-linecap="butt" stroke-linejoin="miter"/>
<line x1="572.4" y1="74.5" x2="576" y2="74.5" stroke="#000" stroke-width="1.1" stroke-linecap="butt"/>
<line x1="572.4" y1="83.5" x2="576" y2="83.5" stroke="#000" stroke-width="1.1" stroke-linecap="butt"/>
<line x1="572.4" y1="92.5" x2="576" y2="92.5" stroke="#000" stroke-width="1.1" stroke-linecap="butt"/>
<line x1="572.4" y1="101.5" x2="576" y2="101.5" stroke="#000" stroke-width="1.1" stroke-linecap="butt"/>
<line x1="572.4" y1="110.5" x2="576" y2="110.5" stroke="#000" stroke-width="1.1" stroke-linecap="butt"/>
<line x1="572.4" y1="119.5" x2="576" y2="119.5" stroke="#000" stroke-width="1.1" stroke-linecap="butt"/>
<line x1="572.4" y1="128.5" x2="576" y2="128.5" stroke="#000" stroke-width="1.1" stroke-linecap="butt"/>
<line x1="572.4" y1="137.5" x2="576" y2="137.5" stroke="#000" stroke-width="1.1" stroke-linecap="butt"/>
<line x1="572.4" y1="147.5" x2="576" y2="147.5" stroke="#000" stroke-width="1.1" stroke-linecap="butt"/>
<line x1="572.8" y1="65.5" x2="601.5" y2="65.5" stroke="#000" stroke-width="1" stroke-linecap="butt"/>
<circle cx="601.5" cy="65" r="2.6" fill="#000"/>
<line x1="575.5" y1="111.5" x2="596.5" y2="111.5" stroke="#000" stroke-width="1" stroke-linecap="butt"/>
<circle cx="596.5" cy="111.2" r="2.6" fill="#000"/>
<line x1="572.8" y1="156.5" x2="587.7" y2="156.5" stroke="#000" stroke-width="1" stroke-linecap="butt"/>
<line x1="587.5" y1="155.7" x2="587.5" y2="172" stroke="#000" stroke-width="1" stroke-linecap="butt"/>
<line x1="580.2" y1="172" x2="594.7" y2="172" stroke="#000" stroke-width="3" stroke-linecap="round"/>
<line x1="554.6" y1="156.5" x2="538.3" y2="156.5" stroke="#000" stroke-width="1" stroke-linecap="butt"/>
<line x1="538.5" y1="155.7" x2="538.5" y2="265.5" stroke="#000" stroke-width="1" stroke-linecap="butt"/>
<polygon points="531.2,272.2 538.4,265.3 545.6,272.2 545.6,310.6 531.2,310.6" fill="#fff" stroke="#000" stroke-width="1.1" stroke-linecap="butt" stroke-linejoin="miter"/>
<circle cx="10.3" cy="220.2" r="7.6" fill="none" stroke="#000" stroke-width="1.1"/>
<circle cx="10.3" cy="220.2" r="4.2" fill="#000"/>
<line x1="12" y1="220.5" x2="38" y2="220.5" stroke="#000" stroke-width="1" stroke-linecap="butt"/>
<line x1="37.5" y1="219.7" x2="37.5" y2="248.5" stroke="#000" stroke-width="1" stroke-linecap="butt"/>
<line x1="10.5" y1="227.8" x2="10.5" y2="240.4" stroke="#000" stroke-width="1" stroke-linecap="butt"/>
<line x1="5" y1="240.5" x2="16.8" y2="240.5" stroke="#000" stroke-width="1.2" stroke-linecap="butt"/>
<line x1="7.2" y1="243.5" x2="14.8" y2="243.5" stroke="#000" stroke-width="1.2" stroke-linecap="butt"/>
<line x1="9.3" y1="246.5" x2="12.6" y2="246.5" stroke="#000" stroke-width="1.2" stroke-linecap="butt"/>
<rect x="32.5" y="248.5" width="10" height="25.8" fill="#2ad42a" stroke="#103010" stroke-width="1"/>
<line x1="37.5" y1="274.8" x2="37.5" y2="335.5" stroke="#000" stroke-width="1" stroke-linecap="butt"/>
<line x1="29.5" y1="335.5" x2="45.3" y2="335.5" stroke="#000" stroke-width="3" stroke-linecap="round"/>
<polygon points="42.8,261.4 49.3,255.4 49.3,267.4" fill="#000"/>
<line x1="49" y1="261.5" x2="64.6" y2="261.5" stroke="#000" stroke-width="1" stroke-linecap="butt"/>
<line x1="71.4" y1="261.5" x2="113.5" y2="261.5" stroke="#000" stroke-width="1" stroke-linecap="butt"/>
<line x1="139.5" y1="261.5" x2="165" y2="261.5" stroke="#000" stroke-width="1" stroke-linecap="butt"/>
<line x1="64.5" y1="254.2" x2="64.5" y2="270.8" stroke="#000" stroke-width="1" stroke-linecap="butt"/>
<line x1="71.5" y1="254.2" x2="71.5" y2="270.8" stroke="#000" stroke-width="1" stroke-linecap="butt"/>
<circle cx="94.6" cy="261.4" r="2.6" fill="#000"/>
<rect x="113.6" y="256.7" width="25.9" height="9.3" fill="#1010dc" stroke="#00006a" stroke-width="1"/>
<line x1="94.5" y1="261" x2="94.5" y2="408.6" stroke="#000" stroke-width="1" stroke-linecap="butt"/>
<rect x="89.5" y="346.9" width="9.8" height="25.4" fill="#1010dc" stroke="#00006a" stroke-width="1"/>
<line x1="87" y1="408.6" x2="101.7" y2="408.6" stroke="#000" stroke-width="3" stroke-linecap="round"/>
<line x1="165.5" y1="292" x2="165.5" y2="393.6" stroke="#000" stroke-width="1" stroke-linecap="butt"/>
<circle cx="165.4" cy="328.3" r="2.6" fill="#000"/>
<rect x="160.6" y="346.9" width="9.8" height="25.4" fill="#1010dc" stroke="#00006a" stroke-width="1"/>
<polygon points="158.3,400.1 165.3,393.4 172.3,400.1 172.3,438.3 158.3,438.3" fill="#fff" stroke="#000" stroke-width="1.1" stroke-linecap="butt" stroke-linejoin="miter"/>
<line x1="165.4" y1="328.5" x2="290.2" y2="328.5" stroke="#000" stroke-width="1" stroke-linecap="butt"/>
<line x1="296.6" y1="328.5" x2="347.5" y2="328.5" stroke="#000" stroke-width="1" stroke-linecap="butt"/>
<line x1="290.5" y1="320.4" x2="290.5" y2="337.9" stroke="#000" stroke-width="1" stroke-linecap="butt"/>
<line x1="296.5" y1="320.4" x2="296.5" y2="337.9" stroke="#000" stroke-width="1" stroke-linecap="butt"/>
<rect x="189.5" y="323.7" width="26" height="9.5" fill="#1010dc" stroke="#00006a" stroke-width="1"/>
<circle cx="347.5" cy="328.3" r="2.6" fill="#000"/>
<rect x="342.7" y="336.5" width="9.5" height="25.4" fill="#1010dc" stroke="#00006a" stroke-width="1"/>
<circle cx="246.5" cy="377.2" r="2.6" fill="#000"/>
<circle cx="347.5" cy="377.2" r="2.6" fill="#000"/>
<line x1="246.5" y1="377.5" x2="347.5" y2="377.5" stroke="#000" stroke-width="1" stroke-linecap="butt"/>
<rect x="281.8" y="372.8" width="25.7" height="9.2" fill="#1010dc" stroke="#00006a" stroke-width="1"/>
<polygon points="340.3,401 347.6,394 354.9,401 354.9,438.4 340.3,438.4" fill="#fff" stroke="#000" stroke-width="1.1" stroke-linecap="butt" stroke-linejoin="miter"/>
<rect x="237.5" y="401.5" width="18" height="3" fill="#fff" stroke="#000" stroke-width="1"/>
<line x1="237.1" y1="408.5" x2="256.1" y2="408.5" stroke="#000" stroke-width="1.2" stroke-linecap="butt"/>
<line x1="246.5" y1="408.1" x2="246.5" y2="437" stroke="#000" stroke-width="1" stroke-linecap="butt"/>
<line x1="239" y1="437.2" x2="254.2" y2="437.2" stroke="#000" stroke-width="3" stroke-linecap="round"/>
<line x1="250.8" y1="393.5" x2="257.2" y2="393.5" stroke="#000" stroke-width="1.1" stroke-linecap="butt"/>
<line x1="254.5" y1="390.4" x2="254.5" y2="396.8" stroke="#000" stroke-width="1.1" stroke-linecap="butt"/>
<text x="133.42" y="26.8" font-size="13.1" textLength="27.13" lengthAdjust="spacingAndGlyphs" fill="#000">6922</text>
<text x="293.53" y="27" font-size="13.25" textLength="26.8" lengthAdjust="spacingAndGlyphs" fill="#000">6H8C</text>
<text x="464.41" y="26.5" font-size="12.05" textLength="47.97" lengthAdjust="spacingAndGlyphs" fill="#000">6C33C-B</text>
<text x="527" y="51.5" font-size="12.35" textLength="76.47" lengthAdjust="spacingAndGlyphs" fill="#000">600:120/300</text>
<text x="133.55" y="103.7" font-size="13.4" textLength="26.11" lengthAdjust="spacingAndGlyphs" fill="#7a1f1f">680K</text>
<text x="51.61" y="125.8" font-size="12.8" textLength="27.97" lengthAdjust="spacingAndGlyphs" fill="#7a1f1f">100n</text>
<text x="193" y="143.4" font-size="12.2" textLength="20.87" lengthAdjust="spacingAndGlyphs" fill="#7a1f1f">680</text>
<text x="192.61" y="184.7" font-size="12.65" textLength="19.05" lengthAdjust="spacingAndGlyphs" fill="#7a1f1f">22K</text>
<text x="255.25" y="229.9" font-size="13.4" textLength="20.4" lengthAdjust="spacingAndGlyphs" fill="#c21a2a">2K2</text>
<text transform="translate(339.2,254.93) rotate(-90)" x="0" y="0" font-size="12.8" textLength="55.58" lengthAdjust="spacingAndGlyphs" fill="#c21a2a">470u/25v</text>
<text x="358.06" y="111.1" font-size="12.2" textLength="28.33" lengthAdjust="spacingAndGlyphs" fill="#7a1f1f">470n</text>
<text x="418.15" y="112.7" font-size="12.2" textLength="20.19" lengthAdjust="spacingAndGlyphs" fill="#7a1f1f">510</text>
<text x="401.71" y="216.5" font-size="12.2" textLength="27.85" lengthAdjust="spacingAndGlyphs" fill="#c21a2a">100K</text>
<line x1="377" y1="322.5" x2="383.2" y2="322.5" stroke="#1e2258" stroke-width="1.1" stroke-linecap="butt"/>
<text x="384.77" y="326.5" font-size="12.05" textLength="19.64" lengthAdjust="spacingAndGlyphs" fill="#1e2258">35V</text>
<text x="483.34" y="253.1" font-size="12.2" textLength="13.45" lengthAdjust="spacingAndGlyphs" fill="#c21a2a">18</text>
<text x="521.49" y="325.8" font-size="13.4" textLength="35.13" lengthAdjust="spacingAndGlyphs" fill="#1e2258">+160V</text>
<text x="55.11" y="248" font-size="11.9" textLength="28.58" lengthAdjust="spacingAndGlyphs" fill="#7a1f1f">220n</text>
<text x="114.25" y="248.4" font-size="11.14" textLength="20.3" lengthAdjust="spacingAndGlyphs" fill="#7a1f1f">510</text>
<text x="43.07" y="289.8" font-size="12.5" textLength="25.89" lengthAdjust="spacingAndGlyphs" fill="#7a1f1f">100K</text>
<text x="189.08" y="317.9" font-size="13.25" textLength="25.58" lengthAdjust="spacingAndGlyphs" fill="#7a1f1f">150K</text>
<text x="266.76" y="314" font-size="11.6" textLength="56.29" lengthAdjust="spacingAndGlyphs" fill="#c21a2a">4u7/270v</text>
<text x="55.34" y="363.6" font-size="12.2" textLength="26.53" lengthAdjust="spacingAndGlyphs" fill="#7a1f1f">680K</text>
<text x="133.59" y="362.9" font-size="12.2" textLength="21.08" lengthAdjust="spacingAndGlyphs" fill="#7a1f1f">680</text>
<text x="283.27" y="368.9" font-size="12.35" textLength="19.49" lengthAdjust="spacingAndGlyphs" fill="#7a1f1f">39K</text>
<text x="357.07" y="352.7" font-size="13.1" textLength="19.99" lengthAdjust="spacingAndGlyphs" fill="#7a1f1f">22K</text>
<text transform="translate(231.2,429.08) rotate(-90)" x="0" y="0" font-size="13.55" textLength="62.02" lengthAdjust="spacingAndGlyphs" fill="#8a2a2a">100u/350v</text>
<line x1="148" y1="451.5" x2="154.2" y2="451.5" stroke="#000" stroke-width="1.1" stroke-linecap="butt"/>
<text x="155.28" y="455.6" font-size="12.35" textLength="20.23" lengthAdjust="spacingAndGlyphs" fill="#000">75V</text>
<text x="330.69" y="454.7" font-size="12.95" textLength="35.13" lengthAdjust="spacingAndGlyphs" fill="#000">+320V</text>
<path transform="translate(424.0,394.6)" d="M7.5,1.5 C7,0.3 6,0 4.2,0 C1.5,0 0.5,2 0.5,5 L0.5,8.5 C0.5,11.5 1.8,12.5 4,12.5 C6.5,12.5 7.8,11.2 7.8,9 C7.8,6.8 6.5,5.6 4.2,5.6 C2.2,5.6 1,6.5 0.5,7.5" fill="none" stroke="#000" stroke-width="1.15"/>
<path transform="translate(435.3,394.6)" d="M8.3,3.4 L8.3,0 M8.3,1.5 C7.3,0.3 6.2,0 4.4,0 C1.6,0 0.5,2.2 0.5,5.5 L0.5,7 C0.5,10.5 1.8,12.5 4.4,12.5 C6.5,12.5 7.6,11.6 8.3,10" fill="none" stroke="#000" stroke-width="1.15"/>
<path transform="translate(446.0,394.6)" d="M0.3,2.5 C0.6,0.8 1.8,0 4,0 C6.3,0 7.3,1.2 7.3,3 C7.3,5 6,6 3.5,6 M3.5,6 C6.3,6 7.6,7.3 7.6,9.2 C7.6,11.5 6.2,12.5 3.8,12.5 C1.8,12.5 0.5,11.7 0.2,10" fill="none" stroke="#000" stroke-width="1.15"/>
<path transform="translate(456.9,394.6)" d="M0.3,2.5 C0.6,0.8 1.8,0 4,0 C6.3,0 7.3,1.2 7.3,3 C7.3,5 6,6 3.5,6 M3.5,6 C6.3,6 7.6,7.3 7.6,9.2 C7.6,11.5 6.2,12.5 3.8,12.5 C1.8,12.5 0.5,11.7 0.2,10" fill="none" stroke="#000" stroke-width="1.15"/>
<path transform="translate(468.2,394.6)" d="M8.3,3.4 L8.3,0 M8.3,1.5 C7.3,0.3 6.2,0 4.4,0 C1.6,0 0.5,2.2 0.5,5.5 L0.5,7 C0.5,10.5 1.8,12.5 4.4,12.5 C6.5,12.5 7.6,11.6 8.3,10" fill="none" stroke="#000" stroke-width="1.15"/>
<path transform="translate(490.4,394.6)" d="M0,0 L4.8,0 C6.8,0 7.6,1.2 7.6,3 C7.6,4.8 6.6,6 4.6,6 L1.2,6 M4.6,6 C7,6 8.3,7.3 8.3,9.2 C8.3,11.3 7,12.5 4.8,12.5 L0,12.5 M1.3,0 L1.3,12.5" fill="none" stroke="#000" stroke-width="1.15"/>
<line x1="479" y1="400.5" x2="488" y2="400.5" stroke="#000" stroke-width="1.1" stroke-linecap="butt"/>
<text x="422.19" y="430.9" font-size="14" textLength="160.91" lengthAdjust="spacingAndGlyphs" fill="#000">Design by sword_yang</text>
<line x1="502" y1="392.6" x2="519" y2="392.6" stroke="#000" stroke-width="1.5" stroke-linecap="butt"/>
<line x1="506.3" y1="392.6" x2="506.3" y2="405.5" stroke="#000" stroke-width="1.5" stroke-linecap="butt"/>
<line x1="514.3" y1="392.6" x2="514.3" y2="410" stroke="#000" stroke-width="1.5" stroke-linecap="butt"/>
<line x1="506.3" y1="396.6" x2="514.3" y2="396.6" stroke="#000" stroke-width="1.5" stroke-linecap="butt"/>
<line x1="506.3" y1="400.6" x2="514.3" y2="400.6" stroke="#000" stroke-width="1.5" stroke-linecap="butt"/>
<line x1="501.8" y1="405.8" x2="519.5" y2="403.6" stroke="#000" stroke-width="1.5" stroke-linecap="butt"/>
<line x1="527.8" y1="391.8" x2="528.8" y2="394.2" stroke="#000" stroke-width="1.5" stroke-linecap="butt"/>
<line x1="523.4" y1="395.8" x2="533.2" y2="395.8" stroke="#000" stroke-width="1.5" stroke-linecap="butt"/>
<polyline points="526.4,395.8 526.4,402 523.6,409" fill="none" stroke="#000" stroke-width="1.5" stroke-linecap="butt" stroke-linejoin="miter"/>
<polyline points="526.4,399.6 531.6,399.6 531.4,407.5 529.4,409.2" fill="none" stroke="#000" stroke-width="1.5" stroke-linecap="butt" stroke-linejoin="miter"/>
<polyline points="536,391.8 533.4,399" fill="none" stroke="#000" stroke-width="1.5" stroke-linecap="butt" stroke-linejoin="miter"/>
<line x1="534.6" y1="396.6" x2="541.2" y2="396.6" stroke="#000" stroke-width="1.5" stroke-linecap="butt"/>
<polyline points="538.8,396.6 537.4,402.5 531.8,409.4" fill="none" stroke="#000" stroke-width="1.5" stroke-linecap="butt" stroke-linejoin="miter"/>
<polyline points="534.4,399.5 537.2,404.5 541.6,408.8" fill="none" stroke="#000" stroke-width="1.5" stroke-linecap="butt" stroke-linejoin="miter"/>
</svg>
</body></html>
